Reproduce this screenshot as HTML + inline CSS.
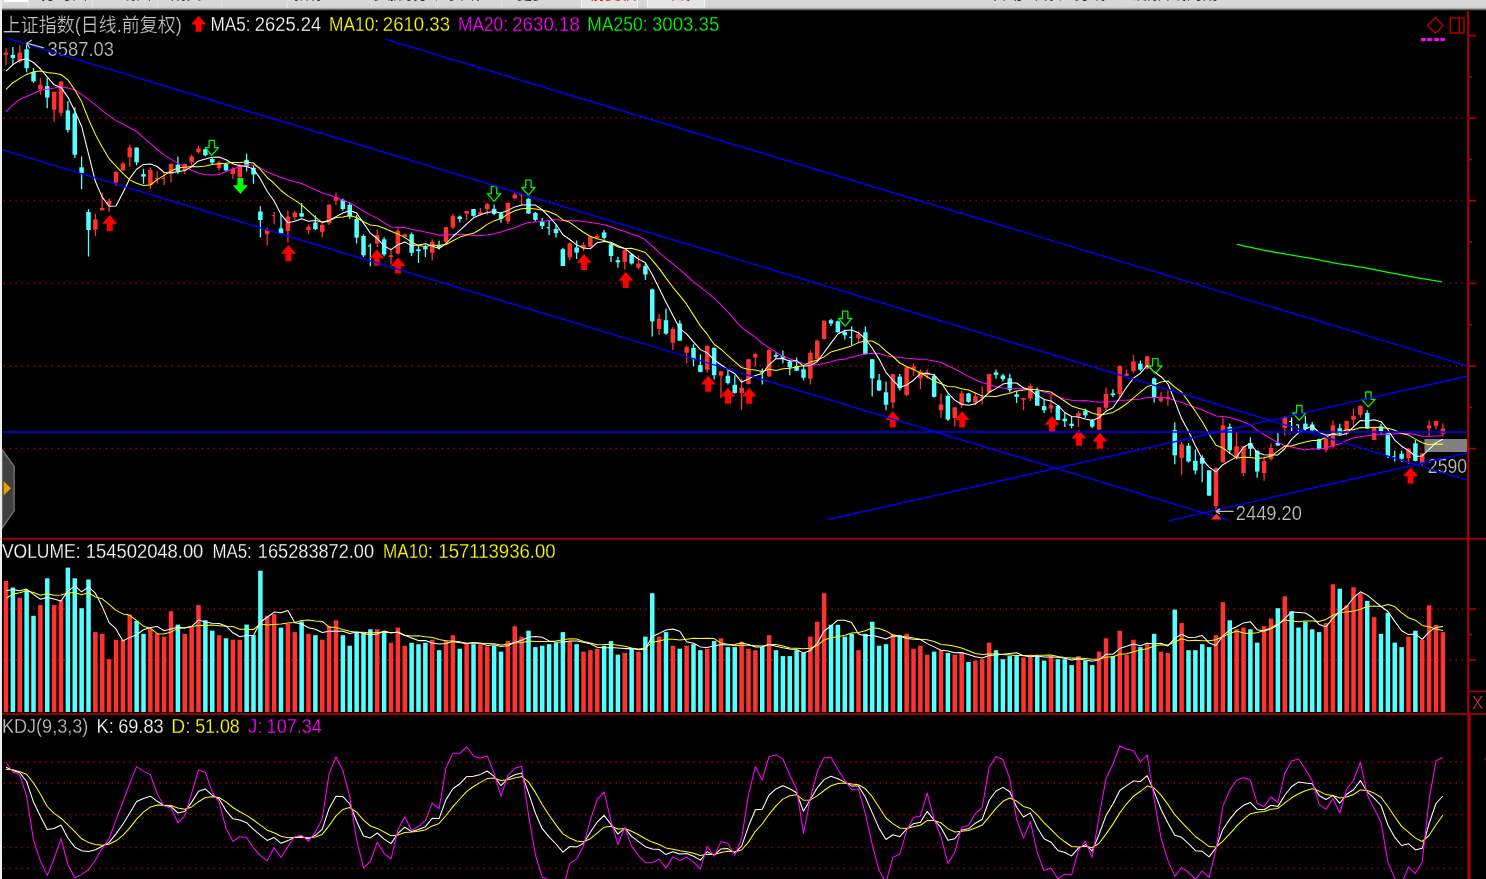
<!DOCTYPE html>
<html lang="zh-CN">
<head>
<meta charset="utf-8">
<title>上证指数 日线</title>
<style>
html,body{margin:0;padding:0;background:#000;}
body{width:1486px;height:879px;overflow:hidden;position:relative;font-family:"Liberation Sans","Noto Sans CJK SC",sans-serif;}
#bar{position:absolute;left:0;top:0;width:1486px;height:11px;background:linear-gradient(#d9d9d9 0,#d6d6d6 6px,#cdcdcd 7.6px,#909090 9px,#2a2a2a 10.2px,#000 11px);overflow:hidden;}
#bar span{position:absolute;top:-14.1px;font-size:15px;line-height:15px;color:#333;white-space:nowrap;letter-spacing:0.6px;filter:blur(0.4px);}
#bar i{position:absolute;top:0;width:1.2px;height:8px;background:#dfdfdf;}
#bar b{position:absolute;top:0;height:7.5px;background:#e4e4e4;border-left:1.5px solid #f6f6f6;border-right:1.5px solid #f6f6f6;box-sizing:border-box;}
#left{position:absolute;left:0;top:0;width:2px;height:879px;background:#ededed;}
svg{position:absolute;left:0;top:0;filter:blur(0.45px);}
svg text{font-family:"Liberation Sans","Noto Sans CJK SC",sans-serif;white-space:pre;}
</style>
</head>
<body>
<svg width="1486" height="879" viewBox="0 0 1486 879">
<line x1="3.4" y1="118.2" x2="1464" y2="118.2" stroke="#c00000" stroke-width="1.3" stroke-dasharray="1.4 4.60"/>
<line x1="3.4" y1="200.8" x2="1464" y2="200.8" stroke="#c00000" stroke-width="1.3" stroke-dasharray="1.4 4.60"/>
<line x1="3.4" y1="283.4" x2="1464" y2="283.4" stroke="#c00000" stroke-width="1.3" stroke-dasharray="1.4 4.60"/>
<line x1="3.4" y1="366" x2="1464" y2="366" stroke="#c00000" stroke-width="1.3" stroke-dasharray="1.4 4.60"/>
<line x1="3.4" y1="448.5" x2="1464" y2="448.5" stroke="#c00000" stroke-width="1.3" stroke-dasharray="1.4 4.60"/>
<line x1="3.4" y1="609" x2="1464" y2="609" stroke="#c00000" stroke-width="1.3" stroke-dasharray="1.4 4.60"/>
<line x1="3.4" y1="660" x2="1464" y2="660" stroke="#c00000" stroke-width="1.3" stroke-dasharray="1.4 4.60"/>
<line x1="3.4" y1="762" x2="1464" y2="762" stroke="#c00000" stroke-width="1.3" stroke-dasharray="1.4 4.60"/>
<line x1="3.4" y1="783" x2="1464" y2="783" stroke="#c00000" stroke-width="1.3" stroke-dasharray="1.4 4.60"/>
<line x1="3.4" y1="814.6" x2="1464" y2="814.6" stroke="#c00000" stroke-width="1.3" stroke-dasharray="1.4 4.60"/>
<line x1="3.4" y1="847.6" x2="1464" y2="847.6" stroke="#c00000" stroke-width="1.3" stroke-dasharray="1.4 4.60"/>
<line x1="3.4" y1="868.3" x2="1464" y2="868.3" stroke="#c00000" stroke-width="1.3" stroke-dasharray="1.4 4.60"/>
<g id="blueend"></g>
<rect x="1424.4" y="439" width="43" height="13" fill="#808080"/>
<line x1="6" y1="48.3" x2="6" y2="64.9" stroke="#ff3232" stroke-width="1.3"/>
<rect x="3.75" y="52.6" width="4.5" height="2.2" fill="#ff3232"/>
<line x1="12.9" y1="47.1" x2="12.9" y2="64.9" stroke="#54ffff" stroke-width="1.3"/>
<rect x="10.62" y="54.8" width="4.5" height="3.1" fill="#54ffff"/>
<line x1="19.8" y1="45.2" x2="19.8" y2="63.2" stroke="#ff3232" stroke-width="1.3"/>
<rect x="17.50" y="52.6" width="4.5" height="8.8" fill="#ff3232"/>
<line x1="26.6" y1="44.8" x2="26.6" y2="72.4" stroke="#54ffff" stroke-width="1.3"/>
<rect x="24.38" y="49.3" width="4.5" height="18.9" fill="#54ffff"/>
<line x1="33.5" y1="68" x2="33.5" y2="82.8" stroke="#54ffff" stroke-width="1.3"/>
<rect x="31.25" y="72" width="4.5" height="9.4" fill="#54ffff"/>
<line x1="40.4" y1="78.3" x2="40.4" y2="94.9" stroke="#ff3232" stroke-width="1.3"/>
<rect x="38.12" y="84.8" width="4.5" height="4.7" fill="#ff3232"/>
<line x1="47.2" y1="78" x2="47.2" y2="108.3" stroke="#54ffff" stroke-width="1.3"/>
<rect x="45.00" y="86.1" width="4.5" height="11.5" fill="#54ffff"/>
<line x1="54.1" y1="91.5" x2="54.1" y2="121.8" stroke="#ff3232" stroke-width="1.3"/>
<rect x="51.88" y="91.8" width="4.5" height="17.9" fill="#ff3232"/>
<line x1="61" y1="81.4" x2="61" y2="115.8" stroke="#ff3232" stroke-width="1.3"/>
<rect x="58.75" y="81.4" width="4.5" height="31.4" fill="#ff3232"/>
<line x1="67.9" y1="101" x2="67.9" y2="132.6" stroke="#54ffff" stroke-width="1.3"/>
<rect x="65.62" y="110.4" width="4.5" height="19.5" fill="#54ffff"/>
<line x1="74.8" y1="107.3" x2="74.8" y2="158.1" stroke="#54ffff" stroke-width="1.3"/>
<rect x="72.50" y="113.5" width="4.5" height="41.2" fill="#54ffff"/>
<line x1="81.6" y1="156.4" x2="81.6" y2="189.2" stroke="#54ffff" stroke-width="1.3"/>
<rect x="79.38" y="167.3" width="4.5" height="5.9" fill="#54ffff"/>
<line x1="88.5" y1="209.1" x2="88.5" y2="256.6" stroke="#54ffff" stroke-width="1.3"/>
<rect x="86.25" y="212" width="4.5" height="18" fill="#54ffff"/>
<line x1="95.4" y1="213.6" x2="95.4" y2="236" stroke="#ff3232" stroke-width="1.3"/>
<rect x="93.12" y="219.5" width="4.5" height="10.1" fill="#ff3232"/>
<line x1="102.2" y1="192.6" x2="102.2" y2="210.3" stroke="#ff3232" stroke-width="1.3"/>
<rect x="100.00" y="208" width="4.5" height="2.3" fill="#ff3232"/>
<line x1="109.1" y1="198.5" x2="109.1" y2="212" stroke="#ff3232" stroke-width="1.3"/>
<rect x="106.88" y="201" width="4.5" height="4.2" fill="#ff3232"/>
<line x1="116" y1="170.7" x2="116" y2="185.9" stroke="#ff3232" stroke-width="1.3"/>
<rect x="113.75" y="172" width="4.5" height="10.5" fill="#ff3232"/>
<line x1="122.9" y1="162" x2="122.9" y2="170.7" stroke="#ff3232" stroke-width="1.3"/>
<rect x="120.62" y="163.6" width="4.5" height="6.8" fill="#ff3232"/>
<line x1="129.8" y1="144.6" x2="129.8" y2="167" stroke="#ff3232" stroke-width="1.3"/>
<rect x="127.50" y="147.5" width="4.5" height="9.7" fill="#ff3232"/>
<line x1="136.6" y1="147.6" x2="136.6" y2="165.3" stroke="#54ffff" stroke-width="1.3"/>
<rect x="134.38" y="147.6" width="4.5" height="14.7" fill="#54ffff"/>
<line x1="143.5" y1="168.7" x2="143.5" y2="183.8" stroke="#54ffff" stroke-width="1.3"/>
<rect x="141.25" y="174.1" width="4.5" height="2.5" fill="#54ffff"/>
<line x1="150.4" y1="167.3" x2="150.4" y2="189.2" stroke="#ff3232" stroke-width="1.3"/>
<rect x="148.12" y="169.9" width="4.5" height="15.1" fill="#ff3232"/>
<path d="M157.25 171.4 V183.5 M154.75 178.6 H157.25" stroke="#ff3232" stroke-width="1.3" fill="none"/>
<path d="M164.12 172.3 V185.1 M161.62 178.5 H164.12" stroke="#ff3232" stroke-width="1.3" fill="none"/>
<line x1="171" y1="163.6" x2="171" y2="182.2" stroke="#ff3232" stroke-width="1.3"/>
<rect x="168.75" y="164" width="4.5" height="10" fill="#ff3232"/>
<line x1="177.9" y1="156.4" x2="177.9" y2="174" stroke="#54ffff" stroke-width="1.3"/>
<rect x="175.62" y="164.8" width="4.5" height="6.7" fill="#54ffff"/>
<line x1="184.8" y1="163.6" x2="184.8" y2="174" stroke="#ff3232" stroke-width="1.3"/>
<rect x="182.50" y="164" width="4.5" height="6.4" fill="#ff3232"/>
<line x1="191.6" y1="154.7" x2="191.6" y2="165.6" stroke="#ff3232" stroke-width="1.3"/>
<rect x="189.38" y="156.4" width="4.5" height="5.9" fill="#ff3232"/>
<line x1="198.5" y1="145.8" x2="198.5" y2="153.9" stroke="#ff3232" stroke-width="1.3"/>
<rect x="196.25" y="148.5" width="4.5" height="3.7" fill="#ff3232"/>
<line x1="205.4" y1="148.8" x2="205.4" y2="156.4" stroke="#54ffff" stroke-width="1.3"/>
<rect x="203.12" y="149.2" width="4.5" height="6" fill="#54ffff"/>
<line x1="212.2" y1="158.1" x2="212.2" y2="164" stroke="#54ffff" stroke-width="1.3"/>
<rect x="210.00" y="159" width="4.5" height="3.6" fill="#54ffff"/>
<line x1="219.1" y1="160.6" x2="219.1" y2="170.4" stroke="#ff3232" stroke-width="1.3"/>
<rect x="216.88" y="162.3" width="4.5" height="5.9" fill="#ff3232"/>
<line x1="226" y1="163.1" x2="226" y2="171.5" stroke="#54ffff" stroke-width="1.3"/>
<rect x="223.75" y="164" width="4.5" height="6.4" fill="#54ffff"/>
<line x1="232.9" y1="167.3" x2="232.9" y2="179.1" stroke="#ff3232" stroke-width="1.3"/>
<rect x="230.62" y="168.7" width="4.5" height="5.3" fill="#ff3232"/>
<line x1="239.8" y1="164" x2="239.8" y2="177.4" stroke="#ff3232" stroke-width="1.3"/>
<rect x="237.50" y="164.8" width="4.5" height="12.6" fill="#ff3232"/>
<line x1="246.6" y1="153.5" x2="246.6" y2="171.5" stroke="#54ffff" stroke-width="1.3"/>
<rect x="244.38" y="159.8" width="4.5" height="6.7" fill="#54ffff"/>
<line x1="253.5" y1="165.3" x2="253.5" y2="183.8" stroke="#54ffff" stroke-width="1.3"/>
<rect x="251.25" y="167.8" width="4.5" height="6.7" fill="#54ffff"/>
<line x1="260.4" y1="206.2" x2="260.4" y2="237.6" stroke="#54ffff" stroke-width="1.3"/>
<rect x="258.12" y="211.5" width="4.5" height="8.5" fill="#54ffff"/>
<line x1="267.2" y1="227.5" x2="267.2" y2="245.2" stroke="#ff3232" stroke-width="1.3"/>
<rect x="265.00" y="230" width="4.5" height="4.3" fill="#ff3232"/>
<path d="M274.12 212 V224.2 M271.62 215.6 H274.12" stroke="#ff3232" stroke-width="1.3" fill="none"/>
<line x1="281" y1="214" x2="281" y2="233.4" stroke="#54ffff" stroke-width="1.3"/>
<rect x="278.75" y="228.4" width="4.5" height="5" fill="#54ffff"/>
<line x1="287.9" y1="210.7" x2="287.9" y2="242.4" stroke="#ff3232" stroke-width="1.3"/>
<rect x="285.62" y="216.6" width="4.5" height="14.3" fill="#ff3232"/>
<line x1="294.8" y1="210.7" x2="294.8" y2="220" stroke="#ff3232" stroke-width="1.3"/>
<rect x="292.50" y="212.7" width="4.5" height="4.4" fill="#ff3232"/>
<line x1="301.6" y1="203.1" x2="301.6" y2="217.1" stroke="#54ffff" stroke-width="1.3"/>
<rect x="299.38" y="213.2" width="4.5" height="3.4" fill="#54ffff"/>
<line x1="308.5" y1="224.2" x2="308.5" y2="234.3" stroke="#ff3232" stroke-width="1.3"/>
<rect x="306.25" y="226.7" width="4.5" height="3.3" fill="#ff3232"/>
<line x1="315.4" y1="215.4" x2="315.4" y2="230" stroke="#54ffff" stroke-width="1.3"/>
<rect x="313.12" y="222.5" width="4.5" height="6.7" fill="#54ffff"/>
<line x1="322.2" y1="223.3" x2="322.2" y2="237.6" stroke="#ff3232" stroke-width="1.3"/>
<rect x="320.00" y="225" width="4.5" height="6.8" fill="#ff3232"/>
<line x1="329.1" y1="204" x2="329.1" y2="225" stroke="#ff3232" stroke-width="1.3"/>
<rect x="326.88" y="204.8" width="4.5" height="18.5" fill="#ff3232"/>
<line x1="336" y1="192.5" x2="336" y2="204.8" stroke="#ff3232" stroke-width="1.3"/>
<rect x="333.75" y="197.2" width="4.5" height="3.4" fill="#ff3232"/>
<line x1="342.9" y1="198.6" x2="342.9" y2="210.7" stroke="#54ffff" stroke-width="1.3"/>
<rect x="340.62" y="199.8" width="4.5" height="9.2" fill="#54ffff"/>
<line x1="349.8" y1="202.6" x2="349.8" y2="219.1" stroke="#54ffff" stroke-width="1.3"/>
<rect x="347.50" y="204.8" width="4.5" height="11.8" fill="#54ffff"/>
<line x1="356.6" y1="214.9" x2="356.6" y2="243.5" stroke="#54ffff" stroke-width="1.3"/>
<rect x="354.38" y="219.1" width="4.5" height="18.5" fill="#54ffff"/>
<line x1="363.5" y1="234.3" x2="363.5" y2="257" stroke="#54ffff" stroke-width="1.3"/>
<rect x="361.25" y="236" width="4.5" height="19.3" fill="#54ffff"/>
<path d="M370.38 243.5 V266.3 M367.88 245.8 H370.38" stroke="#54ffff" stroke-width="1.3" fill="none"/>
<line x1="377.2" y1="230" x2="377.2" y2="246.9" stroke="#ff3232" stroke-width="1.3"/>
<rect x="375.00" y="235.1" width="4.5" height="8.4" fill="#ff3232"/>
<line x1="384.1" y1="237.3" x2="384.1" y2="256.2" stroke="#54ffff" stroke-width="1.3"/>
<rect x="381.88" y="239.3" width="4.5" height="15.2" fill="#54ffff"/>
<line x1="391" y1="248.6" x2="391" y2="264.6" stroke="#ff3232" stroke-width="1.3"/>
<rect x="388.75" y="255.3" width="4.5" height="1.7" fill="#ff3232"/>
<line x1="397.9" y1="228.4" x2="397.9" y2="254.5" stroke="#ff3232" stroke-width="1.3"/>
<rect x="395.62" y="230.9" width="4.5" height="22.7" fill="#ff3232"/>
<line x1="404.8" y1="233.4" x2="404.8" y2="237.6" stroke="#ff3232" stroke-width="1.3"/>
<rect x="402.50" y="234.3" width="4.5" height="2.5" fill="#ff3232"/>
<line x1="411.6" y1="232.6" x2="411.6" y2="256.2" stroke="#54ffff" stroke-width="1.3"/>
<rect x="409.38" y="234.3" width="4.5" height="18.5" fill="#54ffff"/>
<line x1="418.5" y1="246" x2="418.5" y2="262.9" stroke="#54ffff" stroke-width="1.3"/>
<rect x="416.25" y="249.4" width="4.5" height="1.7" fill="#54ffff"/>
<line x1="425.4" y1="245.2" x2="425.4" y2="257" stroke="#54ffff" stroke-width="1.3"/>
<rect x="423.12" y="246.9" width="4.5" height="2.5" fill="#54ffff"/>
<line x1="432.2" y1="239.3" x2="432.2" y2="260.4" stroke="#ff3232" stroke-width="1.3"/>
<rect x="430.00" y="241.9" width="4.5" height="10.9" fill="#ff3232"/>
<line x1="439.1" y1="240.7" x2="439.1" y2="249.4" stroke="#54ffff" stroke-width="1.3"/>
<rect x="436.88" y="245.2" width="4.5" height="2.5" fill="#54ffff"/>
<line x1="446" y1="227.2" x2="446" y2="243" stroke="#ff3232" stroke-width="1.3"/>
<rect x="443.75" y="227.2" width="4.5" height="14.7" fill="#ff3232"/>
<line x1="452.9" y1="213.7" x2="452.9" y2="228.9" stroke="#ff3232" stroke-width="1.3"/>
<rect x="450.62" y="216.1" width="4.5" height="11.4" fill="#ff3232"/>
<line x1="459.8" y1="215.4" x2="459.8" y2="222.5" stroke="#54ffff" stroke-width="1.3"/>
<rect x="457.50" y="216.6" width="4.5" height="2.5" fill="#54ffff"/>
<line x1="466.6" y1="210.7" x2="466.6" y2="220" stroke="#ff3232" stroke-width="1.3"/>
<rect x="464.38" y="211" width="4.5" height="2.7" fill="#ff3232"/>
<line x1="473.5" y1="209" x2="473.5" y2="216.6" stroke="#54ffff" stroke-width="1.3"/>
<rect x="471.25" y="209" width="4.5" height="6.8" fill="#54ffff"/>
<line x1="480.4" y1="208" x2="480.4" y2="215.6" stroke="#ff3232" stroke-width="1.3"/>
<rect x="478.12" y="212.2" width="4.5" height="2" fill="#ff3232"/>
<line x1="487.2" y1="202.9" x2="487.2" y2="214.7" stroke="#ff3232" stroke-width="1.3"/>
<rect x="485.00" y="204.1" width="4.5" height="5.1" fill="#ff3232"/>
<line x1="494.1" y1="204.6" x2="494.1" y2="215.2" stroke="#54ffff" stroke-width="1.3"/>
<rect x="491.88" y="208.8" width="4.5" height="5.1" fill="#54ffff"/>
<line x1="501" y1="212.2" x2="501" y2="222.6" stroke="#54ffff" stroke-width="1.3"/>
<rect x="498.75" y="213.5" width="4.5" height="5.4" fill="#54ffff"/>
<line x1="507.9" y1="202.5" x2="507.9" y2="224" stroke="#ff3232" stroke-width="1.3"/>
<rect x="505.62" y="202.9" width="4.5" height="18.5" fill="#ff3232"/>
<line x1="514.8" y1="192.8" x2="514.8" y2="198.7" stroke="#ff3232" stroke-width="1.3"/>
<rect x="512.50" y="194.5" width="4.5" height="3.9" fill="#ff3232"/>
<path d="M521.62 194.5 V205.1 M519.12 194.7 H521.62" stroke="#ff3232" stroke-width="1.3" fill="none"/>
<line x1="528.5" y1="198.4" x2="528.5" y2="213.9" stroke="#54ffff" stroke-width="1.3"/>
<rect x="526.25" y="198.7" width="4.5" height="14.8" fill="#54ffff"/>
<line x1="535.4" y1="211.9" x2="535.4" y2="221.4" stroke="#54ffff" stroke-width="1.3"/>
<rect x="533.12" y="213" width="4.5" height="6.8" fill="#54ffff"/>
<line x1="542.2" y1="218.1" x2="542.2" y2="229" stroke="#54ffff" stroke-width="1.3"/>
<rect x="540.00" y="221.4" width="4.5" height="4.6" fill="#54ffff"/>
<path d="M549.12 220.6 V234.9 M546.62 227.7 H549.12" stroke="#54ffff" stroke-width="1.3" fill="none"/>
<line x1="556" y1="224.8" x2="556" y2="237.4" stroke="#54ffff" stroke-width="1.3"/>
<rect x="553.75" y="229" width="4.5" height="4.2" fill="#54ffff"/>
<line x1="562.9" y1="247.9" x2="562.9" y2="266" stroke="#54ffff" stroke-width="1.3"/>
<rect x="560.62" y="249.2" width="4.5" height="16.8" fill="#54ffff"/>
<line x1="569.8" y1="242.5" x2="569.8" y2="260.2" stroke="#ff3232" stroke-width="1.3"/>
<rect x="567.50" y="243.3" width="4.5" height="14" fill="#ff3232"/>
<line x1="576.6" y1="240.5" x2="576.6" y2="259" stroke="#54ffff" stroke-width="1.3"/>
<rect x="574.38" y="247.5" width="4.5" height="5.1" fill="#54ffff"/>
<line x1="583.5" y1="242.2" x2="583.5" y2="250.9" stroke="#ff3232" stroke-width="1.3"/>
<rect x="581.25" y="245" width="4.5" height="3.4" fill="#ff3232"/>
<line x1="590.4" y1="235.8" x2="590.4" y2="247.5" stroke="#ff3232" stroke-width="1.3"/>
<rect x="588.12" y="236.6" width="4.5" height="10.1" fill="#ff3232"/>
<line x1="597.2" y1="234" x2="597.2" y2="239" stroke="#ff3232" stroke-width="1.3"/>
<rect x="595.00" y="235.8" width="4.5" height="2" fill="#ff3232"/>
<line x1="604.1" y1="229.9" x2="604.1" y2="239.5" stroke="#54ffff" stroke-width="1.3"/>
<rect x="601.88" y="232.4" width="4.5" height="5.4" fill="#54ffff"/>
<line x1="611" y1="243.3" x2="611" y2="261.9" stroke="#54ffff" stroke-width="1.3"/>
<rect x="608.75" y="244.2" width="4.5" height="11.8" fill="#54ffff"/>
<line x1="617.9" y1="256.8" x2="617.9" y2="267.7" stroke="#54ffff" stroke-width="1.3"/>
<rect x="615.62" y="260.2" width="4.5" height="2.2" fill="#54ffff"/>
<line x1="624.8" y1="249.2" x2="624.8" y2="269.4" stroke="#ff3232" stroke-width="1.3"/>
<rect x="622.50" y="250.1" width="4.5" height="11.8" fill="#ff3232"/>
<line x1="631.6" y1="253.4" x2="631.6" y2="264.7" stroke="#54ffff" stroke-width="1.3"/>
<rect x="629.38" y="254.6" width="4.5" height="8.9" fill="#54ffff"/>
<line x1="638.5" y1="255.6" x2="638.5" y2="269.4" stroke="#ff3232" stroke-width="1.3"/>
<rect x="636.25" y="263.5" width="4.5" height="4.2" fill="#ff3232"/>
<line x1="645.4" y1="263.5" x2="645.4" y2="279.9" stroke="#54ffff" stroke-width="1.3"/>
<rect x="643.12" y="266.1" width="4.5" height="8.4" fill="#54ffff"/>
<line x1="652.2" y1="288.5" x2="652.2" y2="336.5" stroke="#54ffff" stroke-width="1.3"/>
<rect x="650.00" y="289.4" width="4.5" height="31.9" fill="#54ffff"/>
<line x1="659.1" y1="314.1" x2="659.1" y2="334.8" stroke="#ff3232" stroke-width="1.3"/>
<rect x="656.88" y="318.8" width="4.5" height="10.1" fill="#ff3232"/>
<line x1="666" y1="308.4" x2="666" y2="334.8" stroke="#54ffff" stroke-width="1.3"/>
<rect x="663.75" y="320.2" width="4.5" height="13.4" fill="#54ffff"/>
<line x1="672.9" y1="327.2" x2="672.9" y2="350" stroke="#ff3232" stroke-width="1.3"/>
<rect x="670.62" y="328.9" width="4.5" height="13.8" fill="#ff3232"/>
<line x1="679.8" y1="320.2" x2="679.8" y2="340.7" stroke="#54ffff" stroke-width="1.3"/>
<rect x="677.50" y="323.5" width="4.5" height="17.2" fill="#54ffff"/>
<line x1="686.6" y1="345.4" x2="686.6" y2="363.4" stroke="#ff3232" stroke-width="1.3"/>
<rect x="684.38" y="347.1" width="4.5" height="5.7" fill="#ff3232"/>
<line x1="693.5" y1="344.1" x2="693.5" y2="366.3" stroke="#54ffff" stroke-width="1.3"/>
<rect x="691.25" y="347.8" width="4.5" height="11.4" fill="#54ffff"/>
<line x1="700.4" y1="354.2" x2="700.4" y2="372.4" stroke="#54ffff" stroke-width="1.3"/>
<rect x="698.12" y="365.1" width="4.5" height="6.8" fill="#54ffff"/>
<line x1="707.2" y1="345.4" x2="707.2" y2="372.4" stroke="#ff3232" stroke-width="1.3"/>
<rect x="705.00" y="345.8" width="4.5" height="23.9" fill="#ff3232"/>
<line x1="714.1" y1="347.4" x2="714.1" y2="379.4" stroke="#54ffff" stroke-width="1.3"/>
<rect x="711.88" y="347.8" width="4.5" height="27.4" fill="#54ffff"/>
<line x1="721" y1="371.3" x2="721" y2="397.9" stroke="#ff3232" stroke-width="1.3"/>
<rect x="718.75" y="371.3" width="4.5" height="4.4" fill="#ff3232"/>
<line x1="727.9" y1="370.2" x2="727.9" y2="384.5" stroke="#54ffff" stroke-width="1.3"/>
<rect x="725.62" y="375.7" width="4.5" height="7.4" fill="#54ffff"/>
<line x1="734.8" y1="375.2" x2="734.8" y2="393.7" stroke="#54ffff" stroke-width="1.3"/>
<rect x="732.50" y="384.8" width="4.5" height="8.1" fill="#54ffff"/>
<line x1="741.6" y1="378.6" x2="741.6" y2="409.7" stroke="#ff3232" stroke-width="1.3"/>
<rect x="739.38" y="387.8" width="4.5" height="5.1" fill="#ff3232"/>
<line x1="748.5" y1="359.2" x2="748.5" y2="384.5" stroke="#ff3232" stroke-width="1.3"/>
<rect x="746.25" y="359.2" width="4.5" height="24.9" fill="#ff3232"/>
<line x1="755.4" y1="352.8" x2="755.4" y2="366" stroke="#ff3232" stroke-width="1.3"/>
<rect x="753.12" y="354.2" width="4.5" height="3.3" fill="#ff3232"/>
<path d="M762.25 368.5 V384.5 M759.75 372.2 H762.25" stroke="#54ffff" stroke-width="1.3" fill="none"/>
<line x1="769.1" y1="348.3" x2="769.1" y2="376.9" stroke="#ff3232" stroke-width="1.3"/>
<rect x="766.88" y="350" width="4.5" height="26.4" fill="#ff3232"/>
<line x1="776" y1="352.8" x2="776" y2="358.4" stroke="#54ffff" stroke-width="1.3"/>
<rect x="773.75" y="355" width="4.5" height="1.7" fill="#54ffff"/>
<line x1="782.9" y1="350.5" x2="782.9" y2="363.4" stroke="#54ffff" stroke-width="1.3"/>
<rect x="780.62" y="355.9" width="4.5" height="2.5" fill="#54ffff"/>
<line x1="789.8" y1="360.1" x2="789.8" y2="375.2" stroke="#54ffff" stroke-width="1.3"/>
<rect x="787.50" y="361.8" width="4.5" height="5.5" fill="#54ffff"/>
<line x1="796.6" y1="357.5" x2="796.6" y2="371" stroke="#54ffff" stroke-width="1.3"/>
<rect x="794.38" y="366" width="4.5" height="4.7" fill="#54ffff"/>
<line x1="803.5" y1="366.8" x2="803.5" y2="380.3" stroke="#54ffff" stroke-width="1.3"/>
<rect x="801.25" y="369.3" width="4.5" height="8.4" fill="#54ffff"/>
<line x1="810.4" y1="350.5" x2="810.4" y2="384.5" stroke="#ff3232" stroke-width="1.3"/>
<rect x="808.12" y="352.8" width="4.5" height="25.8" fill="#ff3232"/>
<line x1="817.2" y1="339.4" x2="817.2" y2="360.1" stroke="#ff3232" stroke-width="1.3"/>
<rect x="815.00" y="340.7" width="4.5" height="18.5" fill="#ff3232"/>
<line x1="824.1" y1="320.2" x2="824.1" y2="339.4" stroke="#ff3232" stroke-width="1.3"/>
<rect x="821.88" y="320.8" width="4.5" height="18.2" fill="#ff3232"/>
<line x1="831" y1="318.8" x2="831" y2="325.9" stroke="#54ffff" stroke-width="1.3"/>
<rect x="828.75" y="320.2" width="4.5" height="3.3" fill="#54ffff"/>
<line x1="837.9" y1="320.5" x2="837.9" y2="332.7" stroke="#54ffff" stroke-width="1.3"/>
<rect x="835.62" y="321.3" width="4.5" height="11" fill="#54ffff"/>
<line x1="844.8" y1="329.8" x2="844.8" y2="339.4" stroke="#54ffff" stroke-width="1.3"/>
<rect x="842.50" y="332" width="4.5" height="3.3" fill="#54ffff"/>
<path d="M851.62 326.4 V345.4 M849.12 337.3 H851.62" stroke="#54ffff" stroke-width="1.3" fill="none"/>
<line x1="858.5" y1="331.4" x2="858.5" y2="342.7" stroke="#ff3232" stroke-width="1.3"/>
<rect x="856.25" y="334" width="4.5" height="4.2" fill="#ff3232"/>
<line x1="865.4" y1="326.4" x2="865.4" y2="354.2" stroke="#54ffff" stroke-width="1.3"/>
<rect x="863.12" y="332.3" width="4.5" height="21.9" fill="#54ffff"/>
<line x1="872.2" y1="358.9" x2="872.2" y2="396.6" stroke="#54ffff" stroke-width="1.3"/>
<rect x="870.00" y="359.3" width="4.5" height="19.1" fill="#54ffff"/>
<line x1="879.1" y1="374.1" x2="879.1" y2="390.9" stroke="#54ffff" stroke-width="1.3"/>
<rect x="876.88" y="380.2" width="4.5" height="10.3" fill="#54ffff"/>
<line x1="886" y1="381.6" x2="886" y2="410.3" stroke="#54ffff" stroke-width="1.3"/>
<rect x="883.75" y="392.3" width="4.5" height="12.4" fill="#54ffff"/>
<line x1="892.9" y1="374.1" x2="892.9" y2="408.6" stroke="#ff3232" stroke-width="1.3"/>
<rect x="890.62" y="374.1" width="4.5" height="28.3" fill="#ff3232"/>
<line x1="899.8" y1="374.1" x2="899.8" y2="390.6" stroke="#54ffff" stroke-width="1.3"/>
<rect x="897.50" y="376.6" width="4.5" height="11.8" fill="#54ffff"/>
<line x1="906.6" y1="366.5" x2="906.6" y2="396.3" stroke="#ff3232" stroke-width="1.3"/>
<rect x="904.38" y="367.3" width="4.5" height="27.8" fill="#ff3232"/>
<line x1="913.5" y1="363.6" x2="913.5" y2="375.8" stroke="#ff3232" stroke-width="1.3"/>
<rect x="911.25" y="366.5" width="4.5" height="3.4" fill="#ff3232"/>
<line x1="920.4" y1="369.4" x2="920.4" y2="389.2" stroke="#ff3232" stroke-width="1.3"/>
<rect x="918.12" y="371.5" width="4.5" height="6.8" fill="#ff3232"/>
<line x1="927.2" y1="369.4" x2="927.2" y2="378.8" stroke="#ff3232" stroke-width="1.3"/>
<rect x="925.00" y="372.4" width="4.5" height="2.5" fill="#ff3232"/>
<line x1="934.1" y1="374.1" x2="934.1" y2="397.6" stroke="#54ffff" stroke-width="1.3"/>
<rect x="931.88" y="376.1" width="4.5" height="20.7" fill="#54ffff"/>
<line x1="941" y1="393.4" x2="941" y2="417.8" stroke="#ff3232" stroke-width="1.3"/>
<rect x="938.75" y="404.4" width="4.5" height="5.9" fill="#ff3232"/>
<line x1="947.9" y1="394.3" x2="947.9" y2="420.9" stroke="#54ffff" stroke-width="1.3"/>
<rect x="945.62" y="396" width="4.5" height="23.5" fill="#54ffff"/>
<line x1="954.8" y1="406.9" x2="954.8" y2="426.6" stroke="#ff3232" stroke-width="1.3"/>
<rect x="952.50" y="407.4" width="4.5" height="10.4" fill="#ff3232"/>
<line x1="961.6" y1="390.9" x2="961.6" y2="407.7" stroke="#ff3232" stroke-width="1.3"/>
<rect x="959.38" y="393.4" width="4.5" height="11.8" fill="#ff3232"/>
<line x1="968.5" y1="393.1" x2="968.5" y2="402.7" stroke="#54ffff" stroke-width="1.3"/>
<rect x="966.25" y="393.4" width="4.5" height="8.5" fill="#54ffff"/>
<line x1="975.4" y1="392.6" x2="975.4" y2="405.2" stroke="#ff3232" stroke-width="1.3"/>
<rect x="973.12" y="396.3" width="4.5" height="6.1" fill="#ff3232"/>
<path d="M982.25 386.2 V404.4 M979.75 397.6 H982.25" stroke="#ff3232" stroke-width="1.3" fill="none"/>
<line x1="989.1" y1="373.7" x2="989.1" y2="392.6" stroke="#ff3232" stroke-width="1.3"/>
<rect x="986.88" y="374.1" width="4.5" height="18.2" fill="#ff3232"/>
<line x1="996" y1="369.4" x2="996" y2="378.8" stroke="#54ffff" stroke-width="1.3"/>
<rect x="993.75" y="372.4" width="4.5" height="2.5" fill="#54ffff"/>
<line x1="1002.9" y1="373.7" x2="1002.9" y2="381.6" stroke="#54ffff" stroke-width="1.3"/>
<rect x="1000.62" y="375.4" width="4.5" height="3.7" fill="#54ffff"/>
<line x1="1009.8" y1="373.7" x2="1009.8" y2="392.6" stroke="#54ffff" stroke-width="1.3"/>
<rect x="1007.50" y="378.3" width="4.5" height="11.8" fill="#54ffff"/>
<line x1="1016.6" y1="390.9" x2="1016.6" y2="403" stroke="#54ffff" stroke-width="1.3"/>
<rect x="1014.38" y="394.3" width="4.5" height="2.5" fill="#54ffff"/>
<line x1="1023.5" y1="398" x2="1023.5" y2="410.3" stroke="#ff3232" stroke-width="1.3"/>
<rect x="1021.25" y="398.1" width="4.5" height="1.6" fill="#ff3232"/>
<line x1="1030.4" y1="383.3" x2="1030.4" y2="401" stroke="#ff3232" stroke-width="1.3"/>
<rect x="1028.12" y="385.9" width="4.5" height="12.6" fill="#ff3232"/>
<line x1="1037.2" y1="387.5" x2="1037.2" y2="405.7" stroke="#54ffff" stroke-width="1.3"/>
<rect x="1035.00" y="390.9" width="4.5" height="14.8" fill="#54ffff"/>
<line x1="1044.1" y1="399.3" x2="1044.1" y2="413.1" stroke="#54ffff" stroke-width="1.3"/>
<rect x="1041.88" y="406.1" width="4.5" height="4.2" fill="#54ffff"/>
<line x1="1051" y1="394.3" x2="1051" y2="413.1" stroke="#ff3232" stroke-width="1.3"/>
<rect x="1048.75" y="405.2" width="4.5" height="3.4" fill="#ff3232"/>
<line x1="1057.9" y1="405.2" x2="1057.9" y2="420.4" stroke="#54ffff" stroke-width="1.3"/>
<rect x="1055.62" y="405.7" width="4.5" height="14.2" fill="#54ffff"/>
<line x1="1064.8" y1="413.1" x2="1064.8" y2="427.1" stroke="#54ffff" stroke-width="1.3"/>
<rect x="1062.50" y="418.7" width="4.5" height="2.5" fill="#54ffff"/>
<line x1="1071.6" y1="417" x2="1071.6" y2="428.3" stroke="#54ffff" stroke-width="1.3"/>
<rect x="1069.38" y="423.7" width="4.5" height="2.2" fill="#54ffff"/>
<line x1="1078.5" y1="411.1" x2="1078.5" y2="427.1" stroke="#ff3232" stroke-width="1.3"/>
<rect x="1076.25" y="413.1" width="4.5" height="3.1" fill="#ff3232"/>
<line x1="1085.4" y1="408.6" x2="1085.4" y2="417.8" stroke="#54ffff" stroke-width="1.3"/>
<rect x="1083.12" y="411.1" width="4.5" height="4.2" fill="#54ffff"/>
<line x1="1092.2" y1="418.7" x2="1092.2" y2="428.3" stroke="#54ffff" stroke-width="1.3"/>
<rect x="1090.00" y="420.4" width="4.5" height="6.2" fill="#54ffff"/>
<line x1="1099.1" y1="406.9" x2="1099.1" y2="430" stroke="#ff3232" stroke-width="1.3"/>
<rect x="1096.88" y="407.4" width="4.5" height="22.2" fill="#ff3232"/>
<line x1="1106" y1="387.5" x2="1106" y2="410.3" stroke="#ff3232" stroke-width="1.3"/>
<rect x="1103.75" y="393.9" width="4.5" height="13.8" fill="#ff3232"/>
<line x1="1112.9" y1="389.2" x2="1112.9" y2="396.9" stroke="#54ffff" stroke-width="1.3"/>
<rect x="1110.62" y="393.5" width="4.5" height="1.7" fill="#54ffff"/>
<line x1="1119.8" y1="365.3" x2="1119.8" y2="398.1" stroke="#ff3232" stroke-width="1.3"/>
<rect x="1117.50" y="366.1" width="4.5" height="27.8" fill="#ff3232"/>
<line x1="1126.6" y1="369.5" x2="1126.6" y2="376.2" stroke="#ff3232" stroke-width="1.3"/>
<rect x="1124.38" y="373.7" width="4.5" height="2" fill="#ff3232"/>
<line x1="1133.5" y1="354.8" x2="1133.5" y2="372.8" stroke="#ff3232" stroke-width="1.3"/>
<rect x="1131.25" y="361.5" width="4.5" height="9.6" fill="#ff3232"/>
<line x1="1140.4" y1="360.5" x2="1140.4" y2="371.1" stroke="#54ffff" stroke-width="1.3"/>
<rect x="1138.12" y="363.6" width="4.5" height="5.9" fill="#54ffff"/>
<line x1="1147.2" y1="356" x2="1147.2" y2="369.5" stroke="#ff3232" stroke-width="1.3"/>
<rect x="1145.00" y="356.3" width="4.5" height="12.3" fill="#ff3232"/>
<line x1="1154.1" y1="377.4" x2="1154.1" y2="402.6" stroke="#54ffff" stroke-width="1.3"/>
<rect x="1151.88" y="378.4" width="4.5" height="19.7" fill="#54ffff"/>
<line x1="1161" y1="392.2" x2="1161" y2="402.6" stroke="#ff3232" stroke-width="1.3"/>
<rect x="1158.75" y="398.1" width="4.5" height="2.8" fill="#ff3232"/>
<line x1="1167.9" y1="390.2" x2="1167.9" y2="405.7" stroke="#ff3232" stroke-width="1.3"/>
<rect x="1165.62" y="397.2" width="4.5" height="1.7" fill="#ff3232"/>
<line x1="1174.8" y1="422.2" x2="1174.8" y2="464.2" stroke="#54ffff" stroke-width="1.3"/>
<rect x="1172.50" y="430.1" width="4.5" height="25.2" fill="#54ffff"/>
<line x1="1181.6" y1="441.9" x2="1181.6" y2="474.7" stroke="#ff3232" stroke-width="1.3"/>
<rect x="1179.38" y="444.4" width="4.5" height="13.4" fill="#ff3232"/>
<line x1="1188.5" y1="443" x2="1188.5" y2="462.6" stroke="#54ffff" stroke-width="1.3"/>
<rect x="1186.25" y="445.7" width="4.5" height="15.8" fill="#54ffff"/>
<line x1="1195.4" y1="449.4" x2="1195.4" y2="474.3" stroke="#54ffff" stroke-width="1.3"/>
<rect x="1193.12" y="460.9" width="4.5" height="9.6" fill="#54ffff"/>
<line x1="1202.2" y1="455.3" x2="1202.2" y2="482.3" stroke="#54ffff" stroke-width="1.3"/>
<rect x="1200.00" y="457.8" width="4.5" height="5.9" fill="#54ffff"/>
<line x1="1209.1" y1="469.9" x2="1209.1" y2="496" stroke="#54ffff" stroke-width="1.3"/>
<rect x="1206.88" y="470.4" width="4.5" height="25.2" fill="#54ffff"/>
<line x1="1216" y1="467.3" x2="1216" y2="512" stroke="#ff3232" stroke-width="1.3"/>
<rect x="1213.75" y="468.2" width="4.5" height="37.8" fill="#ff3232"/>
<line x1="1222.9" y1="417.7" x2="1222.9" y2="462.6" stroke="#ff3232" stroke-width="1.3"/>
<rect x="1220.62" y="425.3" width="4.5" height="37" fill="#ff3232"/>
<line x1="1229.8" y1="423.6" x2="1229.8" y2="453.9" stroke="#54ffff" stroke-width="1.3"/>
<rect x="1227.50" y="426.9" width="4.5" height="23.3" fill="#54ffff"/>
<line x1="1236.6" y1="432.8" x2="1236.6" y2="459.8" stroke="#ff3232" stroke-width="1.3"/>
<rect x="1234.38" y="446.3" width="4.5" height="10.9" fill="#ff3232"/>
<line x1="1243.5" y1="445.8" x2="1243.5" y2="476.1" stroke="#ff3232" stroke-width="1.3"/>
<rect x="1241.25" y="446.3" width="4.5" height="26.9" fill="#ff3232"/>
<line x1="1250.4" y1="437.4" x2="1250.4" y2="456.4" stroke="#54ffff" stroke-width="1.3"/>
<rect x="1248.12" y="442.9" width="4.5" height="5.9" fill="#54ffff"/>
<line x1="1257.2" y1="450.2" x2="1257.2" y2="477.8" stroke="#54ffff" stroke-width="1.3"/>
<rect x="1255.00" y="450.8" width="4.5" height="20.7" fill="#54ffff"/>
<line x1="1264.1" y1="456.4" x2="1264.1" y2="480.8" stroke="#ff3232" stroke-width="1.3"/>
<rect x="1261.88" y="460.9" width="4.5" height="12.3" fill="#ff3232"/>
<line x1="1271" y1="443.4" x2="1271" y2="460.6" stroke="#ff3232" stroke-width="1.3"/>
<rect x="1268.75" y="448" width="4.5" height="10.9" fill="#ff3232"/>
<line x1="1277.9" y1="432.8" x2="1277.9" y2="445.8" stroke="#54ffff" stroke-width="1.3"/>
<rect x="1275.62" y="442.9" width="4.5" height="2.6" fill="#54ffff"/>
<line x1="1284.8" y1="416" x2="1284.8" y2="435.7" stroke="#ff3232" stroke-width="1.3"/>
<rect x="1282.50" y="416.8" width="4.5" height="11" fill="#ff3232"/>
<path d="M1291.62 417.6 V431 M1289.12 421.3 H1291.62" stroke="#ffffff" stroke-width="1.3" fill="none"/>
<path d="M1298.50 424.4 V431 M1296.00 424.8 H1298.50" stroke="#54ffff" stroke-width="1.3" fill="none"/>
<line x1="1305.4" y1="416" x2="1305.4" y2="431.1" stroke="#54ffff" stroke-width="1.3"/>
<rect x="1303.12" y="423.6" width="4.5" height="5.4" fill="#54ffff"/>
<line x1="1312.2" y1="421.9" x2="1312.2" y2="432.8" stroke="#54ffff" stroke-width="1.3"/>
<rect x="1310.00" y="424.4" width="4.5" height="5.9" fill="#54ffff"/>
<line x1="1319.1" y1="438.7" x2="1319.1" y2="449.7" stroke="#54ffff" stroke-width="1.3"/>
<rect x="1316.88" y="439.1" width="4.5" height="10.1" fill="#54ffff"/>
<line x1="1326" y1="437.4" x2="1326" y2="452.2" stroke="#ff3232" stroke-width="1.3"/>
<rect x="1323.75" y="437.9" width="4.5" height="11.8" fill="#ff3232"/>
<line x1="1332.9" y1="420.5" x2="1332.9" y2="448.8" stroke="#ff3232" stroke-width="1.3"/>
<rect x="1330.62" y="425.3" width="4.5" height="21" fill="#ff3232"/>
<line x1="1339.8" y1="423.7" x2="1339.8" y2="435.2" stroke="#54ffff" stroke-width="1.3"/>
<rect x="1337.50" y="428.2" width="4.5" height="5.6" fill="#54ffff"/>
<line x1="1346.6" y1="420.4" x2="1346.6" y2="435.5" stroke="#ff3232" stroke-width="1.3"/>
<rect x="1344.38" y="421" width="4.5" height="12.8" fill="#ff3232"/>
<line x1="1353.5" y1="408.5" x2="1353.5" y2="425.8" stroke="#ff3232" stroke-width="1.3"/>
<rect x="1351.25" y="416.1" width="4.5" height="3.6" fill="#ff3232"/>
<line x1="1360.4" y1="405.6" x2="1360.4" y2="417.7" stroke="#ff3232" stroke-width="1.3"/>
<rect x="1358.12" y="405.8" width="4.5" height="8.9" fill="#ff3232"/>
<line x1="1367.2" y1="410.3" x2="1367.2" y2="428.7" stroke="#54ffff" stroke-width="1.3"/>
<rect x="1365.00" y="413" width="4.5" height="15.5" fill="#54ffff"/>
<line x1="1374.1" y1="426.6" x2="1374.1" y2="440.3" stroke="#ff3232" stroke-width="1.3"/>
<rect x="1371.88" y="427.1" width="4.5" height="12.8" fill="#ff3232"/>
<line x1="1381" y1="423.7" x2="1381" y2="433.8" stroke="#54ffff" stroke-width="1.3"/>
<rect x="1378.75" y="426.4" width="4.5" height="4.7" fill="#54ffff"/>
<line x1="1387.9" y1="432.5" x2="1387.9" y2="458.1" stroke="#54ffff" stroke-width="1.3"/>
<rect x="1385.62" y="433.2" width="4.5" height="22.8" fill="#54ffff"/>
<path d="M1394.75 450.7 V461.4 M1392.25 457.0 H1394.75" stroke="#54ffff" stroke-width="1.3" fill="none"/>
<line x1="1401.6" y1="450.7" x2="1401.6" y2="462.1" stroke="#54ffff" stroke-width="1.3"/>
<rect x="1399.38" y="453.8" width="4.5" height="4.9" fill="#54ffff"/>
<line x1="1408.5" y1="448" x2="1408.5" y2="464.1" stroke="#ff3232" stroke-width="1.3"/>
<rect x="1406.25" y="448.6" width="4.5" height="9.5" fill="#ff3232"/>
<line x1="1415.4" y1="439.9" x2="1415.4" y2="461.4" stroke="#54ffff" stroke-width="1.3"/>
<rect x="1413.12" y="443.3" width="4.5" height="17.5" fill="#54ffff"/>
<line x1="1422.2" y1="452.7" x2="1422.2" y2="465.5" stroke="#ff3232" stroke-width="1.3"/>
<rect x="1420.00" y="453.4" width="4.5" height="9.4" fill="#ff3232"/>
<line x1="1429.1" y1="420.4" x2="1429.1" y2="435.9" stroke="#ff3232" stroke-width="1.3"/>
<rect x="1426.88" y="425.5" width="4.5" height="2.7" fill="#ff3232"/>
<line x1="1436" y1="420.6" x2="1436" y2="429.5" stroke="#ff3232" stroke-width="1.3"/>
<rect x="1433.75" y="421" width="4.5" height="4.8" fill="#ff3232"/>
<line x1="1442.9" y1="423.3" x2="1442.9" y2="436.5" stroke="#ff3232" stroke-width="1.3"/>
<rect x="1440.62" y="428.5" width="4.5" height="5.3" fill="#ff3232"/>
<polyline points="6,111.9 12.9,104.9 19.8,99.3 26.6,96.4 33.5,93.4 40.4,90.2 47.2,89.2 54.1,87.9 61,87 67.9,87.9 74.8,89.8 81.6,94.4 88.5,99.6 95.4,104.8 102.2,110.6 109.1,115.7 116,120.6 122.9,124 129.8,127.7 136.6,131.5 143.5,137.7 150.4,143.3 157.2,149.5 164.1,154.9 171,159.1 177.9,163.4 184.8,166.7 191.6,169.9 198.5,173.3 205.4,174.6 212.2,175 219.1,174.4 226,171.4 232.9,168.9 239.8,166.7 246.6,165 253.5,165.1 260.4,168 267.2,172.1 274.1,174.7 281,177.5 287.9,179.8 294.8,181.7 301.6,183.6 308.5,186.8 315.4,189.7 322.2,192.7 329.1,195.1 336,197.6 342.9,200.2 349.8,202.9 356.6,206.7 363.5,211 370.4,214.9 377.2,218.4 384.1,222.8 391,226.9 397.9,227.4 404.8,227.6 411.6,229.6 418.5,230.4 425.4,232.1 432.2,233.6 439.1,235.1 446,235.1 452.9,234.5 459.8,234.2 466.6,234.5 473.5,235.4 480.4,235.6 487.2,235 494.1,233.8 501,231.9 507.9,229.7 514.8,227.7 521.6,224.7 528.5,222.6 535.4,222.1 542.2,221.6 549.1,220.5 556,219.6 562.9,220.4 569.8,220.5 576.6,220.7 583.5,221.6 590.4,222.6 597.2,223.5 604.1,224.8 611,226.8 617.9,229.3 624.8,231.6 631.6,234.1 638.5,236.3 645.4,239.9 652.2,246.2 659.1,252.4 666,258.4 672.9,263.9 679.8,269.6 686.6,275.5 693.5,281.8 700.4,287.1 707.2,292.3 714.1,298.4 721,304.7 727.9,312 734.8,319.9 741.6,327.4 748.5,332.5 755.4,337.1 762.2,343.3 769.1,347.6 776,352.3 782.9,356.5 789.8,358.8 796.6,361.4 803.5,363.6 810.4,364.8 817.2,364.8 824.1,363.5 831,361.7 837.9,359.7 844.8,359.2 851.6,357.3 858.5,355.5 865.4,354 872.2,353.3 879.1,353.4 886,355.7 892.9,356.7 899.8,357.4 906.6,358.3 913.5,358.8 920.4,359.4 927.2,359.7 934.1,361 941,362.3 947.9,365.7 954.8,369 961.6,372.6 968.5,376.6 975.4,379.8 982.2,382.8 989.1,384.6 996,386.6 1002.9,387.9 1009.8,388.5 1016.6,388.8 1023.5,388.4 1030.4,389 1037.2,389.9 1044.1,392.1 1051,394 1057.9,396.4 1064.8,398.9 1071.6,400.3 1078.5,400.7 1085.4,400.5 1092.2,401.5 1099.1,402.2 1106,401.8 1112.9,401.7 1119.8,400.2 1126.6,400.2 1133.5,399.6 1140.4,399.1 1147.2,397.4 1154.1,397.4 1161,397.4 1167.9,398 1174.8,400.5 1181.6,402.2 1188.5,405 1195.4,407.5 1202.2,409.7 1209.1,413.1 1216,415.9 1222.9,416.4 1229.8,417.6 1236.6,419.5 1243.5,422.1 1250.4,424.8 1257.2,430.1 1264.1,434.5 1271,438.8 1277.9,442.6 1284.8,445.6 1291.6,447 1298.5,448.5 1305.4,450.1 1312.2,448.8 1319.1,449.1 1326,447.9 1332.9,445.6 1339.8,444.1 1346.6,440.4 1353.5,437.8 1360.4,436.8 1367.2,435.8 1374.1,434.8 1381,434 1387.9,434.4 1394.8,433.7 1401.6,433.6 1408.5,433.6 1415.4,434.4 1422.2,436.2 1429.1,436.2 1436,435.9 1442.9,435.8" fill="none" stroke="#ff00ff" stroke-width="1.05" stroke-linejoin="round"/>
<polyline points="6,89.3 12.9,82.7 19.8,78.4 26.6,74.4 33.5,71.7 40.4,70.9 47.2,72.4 54.1,73.2 61,74.5 67.9,79.8 74.8,90 81.6,101.6 88.5,119.3 95.4,134.4 102.2,147.1 109.1,158.7 116,166.2 122.9,173.3 129.8,179.9 136.6,183.2 143.5,185.4 150.4,185 157.2,179.6 164.1,175.4 171,171 177.9,168.1 184.8,167.3 191.6,166.6 198.5,166.7 205.4,166 212.2,164.6 219.1,163.8 226,163.2 232.9,162.4 239.8,162.4 246.6,161.9 253.5,163 260.4,169.3 267.2,177.5 274.1,183.4 281,190.5 287.9,195.9 294.8,200.1 301.6,204.9 308.5,211.1 315.4,217.4 322.2,222.4 329.1,220.9 336,217.6 342.9,217.1 349.8,215.4 356.6,217.5 363.5,221.8 370.4,224.9 377.2,225.8 384.1,228.3 391,231.3 397.9,233.9 404.8,237.6 411.6,242 418.5,245.5 425.4,246.6 432.2,245.3 439.1,245.3 446,244.5 452.9,240.7 459.8,237.1 466.6,235.1 473.5,233.2 480.4,229.2 487.2,224.4 494.1,220.9 501,218.6 507.9,214.1 514.8,210.8 521.6,208.7 528.5,208.2 535.4,209.1 542.2,210.1 549.1,211.8 556,214.7 562.9,219.9 569.8,222.3 576.6,227.3 583.5,232.3 590.4,236.5 597.2,238.7 604.1,240.5 611,243.5 617.9,246.9 624.8,248.6 631.6,248.3 638.5,250.3 645.4,252.5 652.2,260.1 659.1,268.4 666,278.1 672.9,287.3 679.8,295.7 686.6,304.2 693.5,315.1 700.4,325.9 707.2,334.2 714.1,344.2 721,349.2 727.9,355.7 734.8,361.6 741.6,367.5 748.5,369.4 755.4,370.1 762.2,371.5 769.1,369.3 776,370.4 782.9,368.7 789.8,368.3 796.6,367.1 803.5,365.6 810.4,362.1 817.2,360.2 824.1,356.9 831,351.9 837.9,350.1 844.8,347.9 851.6,345.9 858.5,342.6 865.4,340.9 872.2,341 879.1,344.8 886,351.2 892.9,356.5 899.8,363 906.6,366.5 913.5,369.6 920.4,373 927.2,376.8 934.1,381.1 941,383.7 947.9,386.6 954.8,386.8 961.6,388.8 968.5,390.1 975.4,393 982.2,396 989.1,396.2 996,396.5 1002.9,394.7 1009.8,393.3 1016.6,391 1023.5,390.1 1030.4,389.3 1037.2,389.7 1044.1,391.1 1051,392 1057.9,396.6 1064.8,401.2 1071.6,405.9 1078.5,408.2 1085.4,410.1 1092.2,412.9 1099.1,415.1 1106,413.9 1112.9,412.4 1119.8,408.5 1126.6,403.8 1133.5,397.9 1140.4,392.2 1147.2,386.6 1154.1,384.8 1161,382 1167.9,381 1174.8,387.1 1181.6,392 1188.5,401.6 1195.4,411.2 1202.2,421.5 1209.1,434.1 1216,445.3 1222.9,448 1229.8,453.2 1236.6,458.1 1243.5,457.2 1250.4,457.6 1257.2,458.6 1264.1,457.7 1271,456.1 1277.9,451.1 1284.8,446 1291.6,446 1298.5,443.8 1305.4,442.1 1312.2,440.5 1319.1,440.5 1326,437.2 1332.9,433.6 1339.8,432.2 1346.6,429.7 1353.5,429.7 1360.4,427.6 1367.2,427.7 1374.1,427.5 1381,427.6 1387.9,428.3 1394.8,430.3 1401.6,433.6 1408.5,435.1 1415.4,439.1 1422.2,442.8 1429.1,444.8 1436,444 1442.9,444.2" fill="none" stroke="#ffff00" stroke-width="1.05" stroke-linejoin="round"/>
<polyline points="6,71.1 12.9,64.6 19.8,60.2 26.6,58.7 33.5,62.5 40.4,69 47.2,76.9 54.1,84.8 61,87.4 67.9,97.1 74.8,111.1 81.6,126.2 88.5,153.8 95.4,181.5 102.2,197.1 109.1,206.3 116,206.1 122.9,192.8 129.8,178.4 136.6,169.3 143.5,164.4 150.4,164 157.2,166.5 164.1,172.5 171,172.8 177.9,171.8 184.8,170.6 191.6,166.7 198.5,160.9 205.4,159.1 212.2,157.3 219.1,157 226,159.8 232.9,163.8 239.8,165.8 246.6,166.5 253.5,169 260.4,178.9 267.2,191.2 274.1,201 281,214.4 287.9,222.8 294.8,221.3 301.6,218.7 308.5,221.2 315.4,220.4 322.2,222 329.1,220.5 336,216.6 342.9,213 349.8,210.5 356.6,213 363.5,223.1 370.4,233.2 377.2,238.5 384.1,246 391,249.6 397.9,244.7 404.8,242 411.6,245.6 418.5,244.9 425.4,243.7 432.2,245.9 439.1,248.6 446,243.5 452.9,236.5 459.8,230.4 466.6,224.2 473.5,217.8 480.4,214.8 487.2,212.4 494.1,211.4 501,213 507.9,210.4 514.8,206.9 521.6,205 528.5,205 535.4,205.1 542.2,209.8 549.1,216.7 556,224.3 562.9,234.8 569.8,239.5 576.6,244.8 583.5,248 590.4,248.7 597.2,242.7 604.1,241.6 611,242.2 617.9,245.7 624.8,248.4 631.6,254 638.5,259.1 645.4,262.8 652.2,274.6 659.1,288.3 666,302.3 672.9,315.4 679.8,328.7 686.6,333.8 693.5,341.9 700.4,349.6 707.2,352.9 714.1,359.8 721,364.7 727.9,369.5 734.8,373.7 741.6,382.1 748.5,378.9 755.4,375.4 762.2,373.5 769.1,364.9 776,358.7 782.9,358.6 789.8,361.2 796.6,360.6 803.5,366.2 810.4,365.4 817.2,361.8 824.1,352.5 831,343.1 837.9,334 844.8,330.5 851.6,330 858.5,332.7 865.4,338.8 872.2,348 879.1,359.1 886,372.4 892.9,380.4 899.8,387.2 906.6,385 913.5,380.2 920.4,373.6 927.2,373.2 934.1,374.9 941,382.3 947.9,392.9 954.8,400.1 961.6,404.3 968.5,405.3 975.4,403.7 982.2,399 989.1,392.3 996,388.6 1002.9,384.1 1009.8,382.8 1016.6,383 1023.5,387.8 1030.4,390 1037.2,395.3 1044.1,399.4 1051,401 1057.9,405.4 1064.8,412.5 1071.6,416.5 1078.5,417.1 1085.4,419.1 1092.2,420.4 1099.1,417.7 1106,411.3 1112.9,407.7 1119.8,397.8 1126.6,387.3 1133.5,378.1 1140.4,373.2 1147.2,365.4 1154.1,371.8 1161,376.7 1167.9,383.8 1174.8,401 1181.6,418.6 1188.5,431.3 1195.4,445.8 1202.2,459.1 1209.1,467.1 1216,471.9 1222.9,464.7 1229.8,460.6 1236.6,457.1 1243.5,447.3 1250.4,443.4 1257.2,452.6 1264.1,454.8 1271,455.1 1277.9,454.9 1284.8,448.5 1291.6,439.4 1298.5,432.9 1305.4,429.1 1312.2,426 1319.1,432.5 1326,434.9 1332.9,434.3 1339.8,435.3 1346.6,433.4 1353.5,426.8 1360.4,420.4 1367.2,421 1374.1,419.7 1381,421.7 1387.9,429.7 1394.8,440.2 1401.6,446.2 1408.5,450.5 1415.4,456.4 1422.2,455.9 1429.1,449.4 1436,442.6 1442.9,439.2" fill="none" stroke="#ffffff" stroke-width="1.05" stroke-linejoin="round"/>
<polyline points="1236.8,244.3 1262,249.9 1287.3,254.4 1312.5,258.6 1337.8,263.6 1363,267.3 1388.2,272.4 1413.5,277.1 1442.1,281.8" fill="none" stroke="#00ff00" stroke-width="1.3"/>
<path d="M109.8 215 L117.3 223.7 H112.8 V231 H106.8 V223.7 H102.3 Z" fill="#ff0000"/>
<path d="M288.4 245 L295.9 253.7 H291.4 V261 H285.4 V253.7 H280.9 Z" fill="#ff0000"/>
<path d="M376.8 249.6 L384.3 258.3 H379.8 V265.6 H373.8 V258.3 H369.3 Z" fill="#ff0000"/>
<path d="M398 257.5 L405.5 266.2 H401 V273.5 H395 V266.2 H390.5 Z" fill="#ff0000"/>
<path d="M584.1 254 L591.6 262.7 H587.1 V270 H581.1 V262.7 H576.6 Z" fill="#ff0000"/>
<path d="M625.8 272 L633.3 280.7 H628.8 V288 H622.8 V280.7 H618.3 Z" fill="#ff0000"/>
<path d="M708.3 375.7 L715.8 384.4 H711.3 V391.7 H705.3 V384.4 H700.8 Z" fill="#ff0000"/>
<path d="M728 387.8 L735.5 396.5 H731 V403.8 H725 V396.5 H720.5 Z" fill="#ff0000"/>
<path d="M749.2 387.8 L756.7 396.5 H752.2 V403.8 H746.2 V396.5 H741.7 Z" fill="#ff0000"/>
<path d="M892.8 411.3 L900.3 420 H895.8 V427.3 H889.8 V420 H885.3 Z" fill="#ff0000"/>
<path d="M962.2 411.3 L969.7 420 H965.2 V427.3 H959.2 V420 H954.7 Z" fill="#ff0000"/>
<path d="M1052 416 L1059.5 424.7 H1055 V432 H1049 V424.7 H1044.5 Z" fill="#ff0000"/>
<path d="M1078.9 429.8 L1086.4 438.5 H1081.9 V445.8 H1075.9 V438.5 H1071.4 Z" fill="#ff0000"/>
<path d="M1099.9 432.8 L1107.4 441.5 H1102.9 V448.8 H1096.9 V441.5 H1092.4 Z" fill="#ff0000"/>
<path d="M1410.5 467.5 L1418 476.2 H1413.5 V483.5 H1407.5 V476.2 H1403 Z" fill="#ff0000"/>
<path d="M209.10 140.30 H214.50 V147.60 H218.50 L211.80 155.20 L205.10 147.60 H209.10 Z" fill="none" stroke="#00f000" stroke-width="1.3" stroke-linejoin="round"/>
<path d="M491.30 186.50 H496.70 V193.80 H500.70 L494.00 201.40 L487.30 193.80 H491.30 Z" fill="none" stroke="#00f000" stroke-width="1.3" stroke-linejoin="round"/>
<path d="M525.70 180.20 H531.10 V187.50 H535.10 L528.40 195.10 L521.70 187.50 H525.70 Z" fill="none" stroke="#00f000" stroke-width="1.3" stroke-linejoin="round"/>
<path d="M842.50 311.20 H847.90 V318.50 H851.90 L845.20 326.10 L838.50 318.50 H842.50 Z" fill="none" stroke="#00f000" stroke-width="1.3" stroke-linejoin="round"/>
<path d="M1152.60 358.70 H1158.00 V366.00 H1162.00 L1155.30 373.60 L1148.60 366.00 H1152.60 Z" fill="none" stroke="#00f000" stroke-width="1.3" stroke-linejoin="round"/>
<path d="M1296.60 405.50 H1302.00 V412.80 H1306.00 L1299.30 420.40 L1292.60 412.80 H1296.60 Z" fill="none" stroke="#00f000" stroke-width="1.3" stroke-linejoin="round"/>
<path d="M1365.70 392.00 H1371.10 V399.30 H1375.10 L1368.40 406.90 L1361.70 399.30 H1365.70 Z" fill="none" stroke="#00f000" stroke-width="1.3" stroke-linejoin="round"/>
<path d="M237.4 178 H243.4 V185.3 H247.9 L240.4 194 L232.9 185.3 H237.4 Z" fill="#00ff00"/>
<path d="M198.6 15.8 L206.1 24.5 H201.6 V31.8 H195.6 V24.5 H191.1 Z" fill="#ff0000"/>
<text transform="matrix(1.0516 0 0 1.1297 47.62 56.20)" fill="#c0c0c0" font-size="17.5" stroke="#000" stroke-width="0.22">3587.03</text>
<text transform="matrix(1.0451 0 0 1.1297 1235.84 520.10)" fill="#c0c0c0" font-size="17.5" stroke="#000" stroke-width="0.22">2449.20</text>
<g clip-path="url(#cp)">
<text transform="matrix(1.0086 0 0 1.1215 1427.87 473.40)" fill="#c0c0c0" font-size="17.5" stroke="#000" stroke-width="0.22">2590</text>
</g>
<line x1="6.7" y1="38.1" x2="1468" y2="480.3" stroke="#0000ff" stroke-width="1.4"/>
<line x1="2" y1="149.7" x2="1228.4" y2="520.4" stroke="#0000ff" stroke-width="1.4"/>
<line x1="385" y1="39.2" x2="1468" y2="366.2" stroke="#0000ff" stroke-width="1.4"/>
<line x1="2" y1="432" x2="1468" y2="432" stroke="#0000ff" stroke-width="1.6"/>
<line x1="828" y1="519.5" x2="1468" y2="376" stroke="#0000ff" stroke-width="1.4"/>
<line x1="1168.5" y1="520.9" x2="1468" y2="452.7" stroke="#0000ff" stroke-width="1.4"/>
<path d="M1216.5 513.5 L1221.5 519.5 H1211 Z" fill="#ff3232"/>
<path d="M26.4 43.2 L43.8 47.8 M26.4 43.2 L32 40 M26.4 43.2 L29.8 48.2" stroke="#c0c0c0" stroke-width="1.2" fill="none"/>
<path d="M1216 511.4 H1233.5 M1216 511.4 l4 -2.5 M1216 511.4 l4 2.5" stroke="#c0c0c0" stroke-width="1.3" fill="none"/>
<line x1="1468.2" y1="10" x2="1468.2" y2="714" stroke="#b00000" stroke-width="2"/>
<line x1="1469" y1="714" x2="1469" y2="879" stroke="#b00000" stroke-width="3.2"/>
<line x1="2" y1="538.6" x2="1486" y2="538.6" stroke="#b00000" stroke-width="1.6"/>
<line x1="2" y1="714" x2="1486" y2="714" stroke="#900000" stroke-width="2.1"/>
<line x1="1468" y1="691.5" x2="1486" y2="691.5" stroke="#b00000" stroke-width="1.6"/>
<line x1="1468" y1="35.6" x2="1476.3" y2="35.6" stroke="#b00000" stroke-width="1.6"/>
<line x1="1468" y1="76.9" x2="1472" y2="76.9" stroke="#b00000" stroke-width="1.6"/>
<line x1="1468" y1="118.2" x2="1476.3" y2="118.2" stroke="#b00000" stroke-width="1.6"/>
<line x1="1468" y1="159.5" x2="1472" y2="159.5" stroke="#b00000" stroke-width="1.6"/>
<line x1="1468" y1="200.8" x2="1476.3" y2="200.8" stroke="#b00000" stroke-width="1.6"/>
<line x1="1468" y1="242.1" x2="1472" y2="242.1" stroke="#b00000" stroke-width="1.6"/>
<line x1="1468" y1="283.4" x2="1476.3" y2="283.4" stroke="#b00000" stroke-width="1.6"/>
<line x1="1468" y1="324.7" x2="1472" y2="324.7" stroke="#b00000" stroke-width="1.6"/>
<line x1="1468" y1="366" x2="1476.3" y2="366" stroke="#b00000" stroke-width="1.6"/>
<line x1="1468" y1="407.3" x2="1472" y2="407.3" stroke="#b00000" stroke-width="1.6"/>
<line x1="1468" y1="448.6" x2="1476.3" y2="448.6" stroke="#b00000" stroke-width="1.6"/>
<line x1="1468" y1="609" x2="1476.3" y2="609" stroke="#b00000" stroke-width="1.6"/>
<line x1="1468" y1="634.6" x2="1472" y2="634.6" stroke="#b00000" stroke-width="1.6"/>
<line x1="1468" y1="659.8" x2="1476.3" y2="659.8" stroke="#b00000" stroke-width="1.6"/>
<line x1="1484.5" y1="759" x2="1486" y2="759" stroke="#b00000" stroke-width="1.6"/>
<path d="M1435.4 17.6 L1443.2 25.4 L1435.4 33.2 L1427.6 25.4 Z" fill="none" stroke="#b00000" stroke-width="1.4"/>
<path d="M1450.2 17.9 H1464 V32.9 H1450.2 Z M1459.1 17.9 V32.9" fill="none" stroke="#b00000" stroke-width="1.5"/>
<path d="M1421 39.6 h4.7 m1.4 0 h4.7 m2.5 0 h4.7 m1.4 0 h4.7" stroke="#ff00ff" stroke-width="3" fill="none"/>
<rect x="3.75" y="581" width="4.5" height="131" fill="#ff3232"/>
<rect x="10.62" y="587.5" width="4.5" height="124.5" fill="#54ffff"/>
<rect x="17.50" y="597.7" width="4.5" height="114.3" fill="#ff3232"/>
<rect x="24.38" y="590.2" width="4.5" height="121.8" fill="#54ffff"/>
<rect x="31.25" y="615.8" width="4.5" height="96.2" fill="#54ffff"/>
<rect x="38.12" y="605.1" width="4.5" height="106.9" fill="#ff3232"/>
<rect x="45.00" y="578.3" width="4.5" height="133.7" fill="#54ffff"/>
<rect x="51.88" y="605.1" width="4.5" height="106.9" fill="#ff3232"/>
<rect x="58.75" y="600.4" width="4.5" height="111.6" fill="#ff3232"/>
<rect x="65.62" y="567.6" width="4.5" height="144.4" fill="#54ffff"/>
<rect x="72.50" y="578.3" width="4.5" height="133.7" fill="#54ffff"/>
<rect x="79.38" y="608.2" width="4.5" height="103.8" fill="#54ffff"/>
<rect x="86.25" y="579.5" width="4.5" height="132.5" fill="#54ffff"/>
<rect x="93.12" y="632.1" width="4.5" height="79.9" fill="#ff3232"/>
<rect x="100.00" y="633.8" width="4.5" height="78.2" fill="#ff3232"/>
<rect x="106.88" y="659.2" width="4.5" height="52.8" fill="#ff3232"/>
<rect x="113.75" y="639.7" width="4.5" height="72.3" fill="#ff3232"/>
<rect x="120.62" y="639.7" width="4.5" height="72.3" fill="#ff3232"/>
<rect x="127.50" y="614.7" width="4.5" height="97.3" fill="#ff3232"/>
<rect x="134.38" y="620.9" width="4.5" height="91.1" fill="#54ffff"/>
<rect x="141.25" y="633.8" width="4.5" height="78.2" fill="#54ffff"/>
<rect x="148.12" y="629.1" width="4.5" height="82.9" fill="#ff3232"/>
<rect x="155.00" y="633.8" width="4.5" height="78.2" fill="#ff3232"/>
<rect x="161.88" y="636.6" width="4.5" height="75.4" fill="#ff3232"/>
<rect x="168.75" y="611.3" width="4.5" height="100.7" fill="#ff3232"/>
<rect x="175.62" y="624.6" width="4.5" height="87.4" fill="#54ffff"/>
<rect x="182.50" y="633.8" width="4.5" height="78.2" fill="#ff3232"/>
<rect x="189.38" y="626" width="4.5" height="86" fill="#ff3232"/>
<rect x="196.25" y="605.1" width="4.5" height="106.9" fill="#ff3232"/>
<rect x="203.12" y="620.3" width="4.5" height="91.7" fill="#54ffff"/>
<rect x="210.00" y="630.7" width="4.5" height="81.3" fill="#54ffff"/>
<rect x="216.88" y="635.2" width="4.5" height="76.8" fill="#ff3232"/>
<rect x="223.75" y="638.3" width="4.5" height="73.7" fill="#54ffff"/>
<rect x="230.62" y="639.7" width="4.5" height="72.3" fill="#ff3232"/>
<rect x="237.50" y="639.7" width="4.5" height="72.3" fill="#ff3232"/>
<rect x="244.38" y="624.6" width="4.5" height="87.4" fill="#54ffff"/>
<rect x="251.25" y="635.2" width="4.5" height="76.8" fill="#54ffff"/>
<rect x="258.12" y="570.7" width="4.5" height="141.3" fill="#54ffff"/>
<rect x="265.00" y="615.8" width="4.5" height="96.2" fill="#ff3232"/>
<rect x="271.88" y="614.1" width="4.5" height="97.9" fill="#ff3232"/>
<rect x="278.75" y="627.6" width="4.5" height="84.4" fill="#54ffff"/>
<rect x="285.62" y="623.9" width="4.5" height="88.1" fill="#ff3232"/>
<rect x="292.50" y="632.1" width="4.5" height="79.9" fill="#ff3232"/>
<rect x="299.38" y="621.5" width="4.5" height="90.5" fill="#54ffff"/>
<rect x="306.25" y="633.8" width="4.5" height="78.2" fill="#ff3232"/>
<rect x="313.12" y="635.2" width="4.5" height="76.8" fill="#54ffff"/>
<rect x="320.00" y="639.7" width="4.5" height="72.3" fill="#ff3232"/>
<rect x="326.88" y="626" width="4.5" height="86" fill="#ff3232"/>
<rect x="333.75" y="620.3" width="4.5" height="91.7" fill="#ff3232"/>
<rect x="340.62" y="635.2" width="4.5" height="76.8" fill="#54ffff"/>
<rect x="347.50" y="645.7" width="4.5" height="66.3" fill="#54ffff"/>
<rect x="354.38" y="632.5" width="4.5" height="79.5" fill="#54ffff"/>
<rect x="361.25" y="632.5" width="4.5" height="79.5" fill="#54ffff"/>
<rect x="368.12" y="629.3" width="4.5" height="82.7" fill="#54ffff"/>
<rect x="375.00" y="629.3" width="4.5" height="82.7" fill="#ff3232"/>
<rect x="381.88" y="631.1" width="4.5" height="80.9" fill="#54ffff"/>
<rect x="388.75" y="642.8" width="4.5" height="69.2" fill="#ff3232"/>
<rect x="395.62" y="627.6" width="4.5" height="84.4" fill="#ff3232"/>
<rect x="402.50" y="645.7" width="4.5" height="66.3" fill="#ff3232"/>
<rect x="409.38" y="642.8" width="4.5" height="69.2" fill="#54ffff"/>
<rect x="416.25" y="644.2" width="4.5" height="67.8" fill="#54ffff"/>
<rect x="423.12" y="642.8" width="4.5" height="69.2" fill="#54ffff"/>
<rect x="430.00" y="639.7" width="4.5" height="72.3" fill="#ff3232"/>
<rect x="436.88" y="650.2" width="4.5" height="61.8" fill="#54ffff"/>
<rect x="443.75" y="640.3" width="4.5" height="71.7" fill="#ff3232"/>
<rect x="450.62" y="635.2" width="4.5" height="76.8" fill="#ff3232"/>
<rect x="457.50" y="648.7" width="4.5" height="63.3" fill="#54ffff"/>
<rect x="464.38" y="643.4" width="4.5" height="68.6" fill="#ff3232"/>
<rect x="471.25" y="644.2" width="4.5" height="67.8" fill="#54ffff"/>
<rect x="478.12" y="644.2" width="4.5" height="67.8" fill="#ff3232"/>
<rect x="485.00" y="646.5" width="4.5" height="65.5" fill="#ff3232"/>
<rect x="491.88" y="645.7" width="4.5" height="66.3" fill="#54ffff"/>
<rect x="498.75" y="651.6" width="4.5" height="60.4" fill="#54ffff"/>
<rect x="505.62" y="641.1" width="4.5" height="70.9" fill="#ff3232"/>
<rect x="512.50" y="626.2" width="4.5" height="85.8" fill="#ff3232"/>
<rect x="519.38" y="636.6" width="4.5" height="75.4" fill="#ff3232"/>
<rect x="526.25" y="630.7" width="4.5" height="81.3" fill="#54ffff"/>
<rect x="533.12" y="647.1" width="4.5" height="64.9" fill="#54ffff"/>
<rect x="540.00" y="645.7" width="4.5" height="66.3" fill="#54ffff"/>
<rect x="546.88" y="644.2" width="4.5" height="67.8" fill="#54ffff"/>
<rect x="553.75" y="642.6" width="4.5" height="69.4" fill="#54ffff"/>
<rect x="560.62" y="632.1" width="4.5" height="79.9" fill="#54ffff"/>
<rect x="567.50" y="641.1" width="4.5" height="70.9" fill="#ff3232"/>
<rect x="574.38" y="644.2" width="4.5" height="67.8" fill="#54ffff"/>
<rect x="581.25" y="651.6" width="4.5" height="60.4" fill="#ff3232"/>
<rect x="588.12" y="650.2" width="4.5" height="61.8" fill="#ff3232"/>
<rect x="595.00" y="648.7" width="4.5" height="63.3" fill="#ff3232"/>
<rect x="601.88" y="645.7" width="4.5" height="66.3" fill="#54ffff"/>
<rect x="608.75" y="641.1" width="4.5" height="70.9" fill="#54ffff"/>
<rect x="615.62" y="654.7" width="4.5" height="57.3" fill="#54ffff"/>
<rect x="622.50" y="653" width="4.5" height="59" fill="#ff3232"/>
<rect x="629.38" y="648.7" width="4.5" height="63.3" fill="#54ffff"/>
<rect x="636.25" y="651.6" width="4.5" height="60.4" fill="#ff3232"/>
<rect x="643.12" y="636.6" width="4.5" height="75.4" fill="#54ffff"/>
<rect x="650.00" y="593.2" width="4.5" height="118.8" fill="#54ffff"/>
<rect x="656.88" y="636.6" width="4.5" height="75.4" fill="#ff3232"/>
<rect x="663.75" y="632.1" width="4.5" height="79.9" fill="#54ffff"/>
<rect x="670.62" y="645.7" width="4.5" height="66.3" fill="#ff3232"/>
<rect x="677.50" y="648.7" width="4.5" height="63.3" fill="#54ffff"/>
<rect x="684.38" y="645.7" width="4.5" height="66.3" fill="#ff3232"/>
<rect x="691.25" y="644.2" width="4.5" height="67.8" fill="#54ffff"/>
<rect x="698.12" y="650.2" width="4.5" height="61.8" fill="#54ffff"/>
<rect x="705.00" y="648.7" width="4.5" height="63.3" fill="#ff3232"/>
<rect x="711.88" y="641.1" width="4.5" height="70.9" fill="#54ffff"/>
<rect x="718.75" y="638.3" width="4.5" height="73.7" fill="#ff3232"/>
<rect x="725.62" y="647.1" width="4.5" height="64.9" fill="#54ffff"/>
<rect x="732.50" y="647.1" width="4.5" height="64.9" fill="#54ffff"/>
<rect x="739.38" y="641.6" width="4.5" height="70.4" fill="#ff3232"/>
<rect x="746.25" y="648.7" width="4.5" height="63.3" fill="#ff3232"/>
<rect x="753.12" y="650.2" width="4.5" height="61.8" fill="#ff3232"/>
<rect x="760.00" y="647.1" width="4.5" height="64.9" fill="#54ffff"/>
<rect x="766.88" y="635.2" width="4.5" height="76.8" fill="#ff3232"/>
<rect x="773.75" y="650.2" width="4.5" height="61.8" fill="#54ffff"/>
<rect x="780.62" y="656.1" width="4.5" height="55.9" fill="#54ffff"/>
<rect x="787.50" y="656.1" width="4.5" height="55.9" fill="#54ffff"/>
<rect x="794.38" y="650.2" width="4.5" height="61.8" fill="#54ffff"/>
<rect x="801.25" y="653" width="4.5" height="59" fill="#54ffff"/>
<rect x="808.12" y="636.6" width="4.5" height="75.4" fill="#ff3232"/>
<rect x="815.00" y="621.7" width="4.5" height="90.3" fill="#ff3232"/>
<rect x="821.88" y="593.2" width="4.5" height="118.8" fill="#ff3232"/>
<rect x="828.75" y="624.8" width="4.5" height="87.2" fill="#54ffff"/>
<rect x="835.62" y="624.8" width="4.5" height="87.2" fill="#54ffff"/>
<rect x="842.50" y="636.6" width="4.5" height="75.4" fill="#54ffff"/>
<rect x="849.38" y="633.8" width="4.5" height="78.2" fill="#54ffff"/>
<rect x="856.25" y="650.2" width="4.5" height="61.8" fill="#ff3232"/>
<rect x="863.12" y="633.8" width="4.5" height="78.2" fill="#54ffff"/>
<rect x="870.00" y="621.7" width="4.5" height="90.3" fill="#54ffff"/>
<rect x="876.88" y="645.7" width="4.5" height="66.3" fill="#54ffff"/>
<rect x="883.75" y="644.2" width="4.5" height="67.8" fill="#54ffff"/>
<rect x="890.62" y="634.2" width="4.5" height="77.8" fill="#ff3232"/>
<rect x="897.50" y="635.2" width="4.5" height="76.8" fill="#54ffff"/>
<rect x="904.38" y="633.8" width="4.5" height="78.2" fill="#ff3232"/>
<rect x="911.25" y="648.7" width="4.5" height="63.3" fill="#ff3232"/>
<rect x="918.12" y="645.7" width="4.5" height="66.3" fill="#ff3232"/>
<rect x="925.00" y="654.7" width="4.5" height="57.3" fill="#ff3232"/>
<rect x="931.88" y="651.6" width="4.5" height="60.4" fill="#54ffff"/>
<rect x="938.75" y="650.2" width="4.5" height="61.8" fill="#ff3232"/>
<rect x="945.62" y="653" width="4.5" height="59" fill="#54ffff"/>
<rect x="952.50" y="654.7" width="4.5" height="57.3" fill="#ff3232"/>
<rect x="959.38" y="653" width="4.5" height="59" fill="#ff3232"/>
<rect x="966.25" y="662" width="4.5" height="50" fill="#54ffff"/>
<rect x="973.12" y="660.6" width="4.5" height="51.4" fill="#ff3232"/>
<rect x="980.00" y="659.2" width="4.5" height="52.8" fill="#ff3232"/>
<rect x="986.88" y="642.6" width="4.5" height="69.4" fill="#ff3232"/>
<rect x="993.75" y="650.2" width="4.5" height="61.8" fill="#54ffff"/>
<rect x="1000.62" y="659.2" width="4.5" height="52.8" fill="#54ffff"/>
<rect x="1007.50" y="656.1" width="4.5" height="55.9" fill="#54ffff"/>
<rect x="1014.38" y="656.1" width="4.5" height="55.9" fill="#54ffff"/>
<rect x="1021.25" y="657.5" width="4.5" height="54.5" fill="#ff3232"/>
<rect x="1028.12" y="654.7" width="4.5" height="57.3" fill="#ff3232"/>
<rect x="1035.00" y="656.1" width="4.5" height="55.9" fill="#54ffff"/>
<rect x="1041.88" y="660.6" width="4.5" height="51.4" fill="#54ffff"/>
<rect x="1048.75" y="656.1" width="4.5" height="55.9" fill="#ff3232"/>
<rect x="1055.62" y="659.2" width="4.5" height="52.8" fill="#54ffff"/>
<rect x="1062.50" y="659.2" width="4.5" height="52.8" fill="#54ffff"/>
<rect x="1069.38" y="665.1" width="4.5" height="46.9" fill="#54ffff"/>
<rect x="1076.25" y="656.1" width="4.5" height="55.9" fill="#ff3232"/>
<rect x="1083.12" y="660.6" width="4.5" height="51.4" fill="#54ffff"/>
<rect x="1090.00" y="665.1" width="4.5" height="46.9" fill="#54ffff"/>
<rect x="1096.88" y="651.6" width="4.5" height="60.4" fill="#ff3232"/>
<rect x="1103.75" y="638.3" width="4.5" height="73.7" fill="#ff3232"/>
<rect x="1110.62" y="656.1" width="4.5" height="55.9" fill="#54ffff"/>
<rect x="1117.50" y="630.7" width="4.5" height="81.3" fill="#ff3232"/>
<rect x="1124.38" y="654.7" width="4.5" height="57.3" fill="#ff3232"/>
<rect x="1131.25" y="639.7" width="4.5" height="72.3" fill="#ff3232"/>
<rect x="1138.12" y="647.1" width="4.5" height="64.9" fill="#54ffff"/>
<rect x="1145.00" y="644.2" width="4.5" height="67.8" fill="#ff3232"/>
<rect x="1151.88" y="633.8" width="4.5" height="78.2" fill="#54ffff"/>
<rect x="1158.75" y="651.6" width="4.5" height="60.4" fill="#ff3232"/>
<rect x="1165.62" y="653" width="4.5" height="59" fill="#ff3232"/>
<rect x="1172.50" y="609.6" width="4.5" height="102.4" fill="#54ffff"/>
<rect x="1179.38" y="623.1" width="4.5" height="88.9" fill="#ff3232"/>
<rect x="1186.25" y="650.2" width="4.5" height="61.8" fill="#54ffff"/>
<rect x="1193.12" y="650.2" width="4.5" height="61.8" fill="#54ffff"/>
<rect x="1200.00" y="644.2" width="4.5" height="67.8" fill="#54ffff"/>
<rect x="1206.88" y="647.1" width="4.5" height="64.9" fill="#54ffff"/>
<rect x="1213.75" y="635.2" width="4.5" height="76.8" fill="#ff3232"/>
<rect x="1220.62" y="602.2" width="4.5" height="109.8" fill="#ff3232"/>
<rect x="1227.50" y="620.3" width="4.5" height="91.7" fill="#54ffff"/>
<rect x="1234.38" y="629.3" width="4.5" height="82.7" fill="#ff3232"/>
<rect x="1241.25" y="627.6" width="4.5" height="84.4" fill="#ff3232"/>
<rect x="1248.12" y="629.3" width="4.5" height="82.7" fill="#54ffff"/>
<rect x="1255.00" y="642.6" width="4.5" height="69.4" fill="#54ffff"/>
<rect x="1261.88" y="626.2" width="4.5" height="85.8" fill="#ff3232"/>
<rect x="1268.75" y="618.6" width="4.5" height="93.4" fill="#ff3232"/>
<rect x="1275.62" y="608.2" width="4.5" height="103.8" fill="#54ffff"/>
<rect x="1282.50" y="596.3" width="4.5" height="115.7" fill="#ff3232"/>
<rect x="1289.38" y="611.3" width="4.5" height="100.7" fill="#54ffff"/>
<rect x="1296.25" y="627.6" width="4.5" height="84.4" fill="#54ffff"/>
<rect x="1303.12" y="621.7" width="4.5" height="90.3" fill="#54ffff"/>
<rect x="1310.00" y="629.3" width="4.5" height="82.7" fill="#54ffff"/>
<rect x="1316.88" y="632.1" width="4.5" height="79.9" fill="#54ffff"/>
<rect x="1323.75" y="623.1" width="4.5" height="88.9" fill="#ff3232"/>
<rect x="1330.62" y="584.2" width="4.5" height="127.8" fill="#ff3232"/>
<rect x="1337.50" y="588.7" width="4.5" height="123.3" fill="#54ffff"/>
<rect x="1344.38" y="605.3" width="4.5" height="106.7" fill="#ff3232"/>
<rect x="1351.25" y="587.3" width="4.5" height="124.7" fill="#ff3232"/>
<rect x="1358.12" y="593.2" width="4.5" height="118.8" fill="#ff3232"/>
<rect x="1365.00" y="600.8" width="4.5" height="111.2" fill="#54ffff"/>
<rect x="1371.88" y="617.2" width="4.5" height="94.8" fill="#ff3232"/>
<rect x="1378.75" y="633.8" width="4.5" height="78.2" fill="#54ffff"/>
<rect x="1385.62" y="612.7" width="4.5" height="99.3" fill="#54ffff"/>
<rect x="1392.50" y="642.6" width="4.5" height="69.4" fill="#54ffff"/>
<rect x="1399.38" y="647.1" width="4.5" height="64.9" fill="#54ffff"/>
<rect x="1406.25" y="636.6" width="4.5" height="75.4" fill="#ff3232"/>
<rect x="1413.12" y="630.7" width="4.5" height="81.3" fill="#54ffff"/>
<rect x="1420.00" y="639.7" width="4.5" height="72.3" fill="#ff3232"/>
<rect x="1426.88" y="605.3" width="4.5" height="106.7" fill="#ff3232"/>
<rect x="1433.75" y="624.8" width="4.5" height="87.2" fill="#ff3232"/>
<rect x="1440.62" y="632.1" width="4.5" height="79.9" fill="#ff3232"/>
<polyline points="6,598.2 12.9,594.1 19.8,592.7 26.6,590.8 33.5,592.4 40.4,595.2 47.2,593.8 54.1,595.3 61,595.1 67.9,592.9 74.8,592.6 81.6,594.7 88.5,592.8 95.4,597 102.2,598.8 109.1,604.3 116,610.4 122.9,613.9 129.8,615.3 136.6,620.6 143.5,626.2 150.4,628.2 157.2,633.7 164.1,634.1 171,631.9 177.9,628.4 184.8,627.8 191.6,626.4 198.5,625.5 205.4,625.4 212.2,625.1 219.1,625.7 226,626.2 232.9,626.5 239.8,629.3 246.6,629.3 253.5,629.5 260.4,623.9 267.2,625 274.1,624.4 281,624.1 287.9,623 294.8,622.4 301.6,620.5 308.5,619.9 315.4,621 322.2,621.4 329.1,627 336,627.4 342.9,629.5 349.8,631.3 356.6,632.2 363.5,632.2 370.4,633 377.2,632.6 384.1,632.2 391,632.5 397.9,632.6 404.8,635.2 411.6,635.9 418.5,635.8 425.4,636.8 432.2,637.5 439.1,639.6 446,640.7 452.9,641.1 459.8,641.7 466.6,643.3 473.5,643.2 480.4,643.3 487.2,643.5 494.1,643.8 501,645 507.9,644.1 514.8,642.7 521.6,642.8 528.5,641 535.4,641.4 542.2,641.5 549.1,641.5 556,641.1 562.9,639.8 569.8,638.8 576.6,639.1 583.5,641.6 590.4,642.9 597.2,644.8 604.1,644.6 611,644.2 617.9,645.2 624.8,646.2 631.6,647.9 638.5,648.9 645.4,648.2 652.2,642.4 659.1,641 666,639.3 672.9,639.3 679.8,640.1 686.6,639.2 693.5,638.3 700.4,638.5 707.2,638.2 714.1,638.6 721,643.1 727.9,644.2 734.8,645.7 741.6,645.3 748.5,645.3 755.4,645.7 762.2,646 769.1,644.5 776,644.6 782.9,646.1 789.8,647.9 796.6,648.2 803.5,648.8 810.4,648.3 817.2,645.6 824.1,639.9 831,637.7 837.9,636.7 844.8,635.3 851.6,633.1 858.5,632.5 865.4,630.8 872.2,627.7 879.1,628.6 886,630.9 892.9,635 899.8,636 906.6,636.9 913.5,638.1 920.4,639.3 927.2,639.8 934.1,641.5 941,644.4 947.9,645.1 954.8,646.2 961.6,648 968.5,650.7 975.4,653.4 982.2,654.5 989.1,654.1 996,653.7 1002.9,654.5 1009.8,655 1016.6,655.4 1023.5,655.6 1030.4,655.8 1037.2,655.2 1044.1,655.2 1051,654.9 1057.9,656.6 1064.8,657.5 1071.6,658.1 1078.5,658.1 1085.4,658.5 1092.2,659.3 1099.1,659 1106,657.2 1112.9,656.7 1119.8,654.2 1126.6,653.7 1133.5,651.8 1140.4,650 1147.2,648.8 1154.1,646.1 1161,644.8 1167.9,644.9 1174.8,642 1181.6,638.8 1188.5,640.7 1195.4,640.2 1202.2,640.7 1209.1,640.7 1216,639.8 1222.9,636.6 1229.8,633.5 1236.6,631.1 1243.5,632.9 1250.4,633.6 1257.2,632.8 1264.1,630.4 1271,627.8 1277.9,623.9 1284.8,620.1 1291.6,621 1298.5,621.7 1305.4,620.9 1312.2,621.1 1319.1,621.4 1326,619.4 1332.9,615.2 1339.8,612.3 1346.6,612 1353.5,611.1 1360.4,609.3 1367.2,606.6 1374.1,606.1 1381,606.6 1387.9,604.6 1394.8,606.6 1401.6,612.9 1408.5,617.7 1415.4,620.2 1422.2,625.4 1429.1,626.7 1436,629 1442.9,630.5" fill="none" stroke="#ffff00" stroke-width="1.05" stroke-linejoin="round"/>
<polyline points="6,590.7 12.9,589.4 19.8,590.7 26.6,589.1 33.5,594.4 40.4,599.3 47.2,597.4 54.1,598.9 61,600.9 67.9,591.3 74.8,585.9 81.6,591.9 88.5,586.8 95.4,593.2 102.2,606.4 109.1,622.6 116,628.9 122.9,640.9 129.8,637.4 136.6,634.8 143.5,629.8 150.4,627.6 157.2,626.4 164.1,630.8 171,628.9 177.9,627.1 184.8,628 191.6,626.4 198.5,620.1 205.4,621.9 212.2,623.2 219.1,623.5 226,625.9 232.9,632.8 239.8,636.7 246.6,635.5 253.5,635.5 260.4,622 267.2,617.2 274.1,612.1 281,612.7 287.9,610.4 294.8,622.7 301.6,623.9 308.5,627.8 315.4,629.3 322.2,632.5 329.1,631.2 336,631 342.9,631.3 349.8,633.4 356.6,631.9 363.5,633.2 370.4,635 377.2,633.9 384.1,631 391,633 397.9,632 404.8,635.3 411.6,638 418.5,640.6 425.4,640.6 432.2,643 439.1,643.9 446,643.4 452.9,641.6 459.8,642.8 466.6,643.6 473.5,642.4 480.4,643.2 487.2,645.4 494.1,644.8 501,646.4 507.9,645.8 514.8,642.2 521.6,640.2 528.5,637.3 535.4,636.4 542.2,637.3 549.1,640.9 556,642 562.9,642.3 569.8,641.1 576.6,640.9 583.5,642.3 590.4,643.8 597.2,647.2 604.1,648.1 611,647.5 617.9,648.1 624.8,648.6 631.6,648.6 638.5,649.8 645.4,648.9 652.2,636.6 659.1,633.4 666,630 672.9,628.9 679.8,631.3 686.6,641.8 693.5,643.3 700.4,646.9 707.2,647.5 714.1,646 721,644.5 727.9,645.1 734.8,644.5 741.6,643 748.5,644.5 755.4,646.9 762.2,646.9 769.1,644.5 776,646.3 782.9,647.7 789.8,648.9 796.6,649.5 803.5,653.1 810.4,650.4 817.2,643.5 824.1,631 831,625.9 837.9,620.2 844.8,620.2 851.6,622.6 858.5,634 865.4,635.8 872.2,635.2 879.1,637 886,639.1 892.9,635.9 899.8,636.2 906.6,638.6 913.5,639.2 920.4,639.5 927.2,643.6 934.1,646.9 941,650.2 947.9,651 954.8,652.8 961.6,652.5 968.5,654.6 975.4,656.7 982.2,657.9 989.1,655.5 996,654.9 1002.9,654.3 1009.8,653.4 1016.6,652.8 1023.5,655.8 1030.4,656.7 1037.2,656.1 1044.1,657 1051,657 1057.9,657.3 1064.8,658.2 1071.6,660 1078.5,659.1 1085.4,660 1092.2,661.2 1099.1,659.7 1106,654.3 1112.9,654.3 1119.8,648.4 1126.6,646.3 1133.5,643.9 1140.4,645.7 1147.2,643.3 1154.1,643.9 1161,643.3 1167.9,645.9 1174.8,638.4 1181.6,634.2 1188.5,637.5 1195.4,637.2 1202.2,635.5 1209.1,642.9 1216,645.4 1222.9,635.8 1229.8,629.8 1236.6,626.8 1243.5,622.9 1250.4,621.7 1257.2,629.8 1264.1,631 1271,628.9 1277.9,625 1284.8,618.4 1291.6,612.1 1298.5,612.4 1305.4,613 1312.2,617.2 1319.1,624.4 1326,626.8 1332.9,618.1 1339.8,611.5 1346.6,606.7 1353.5,597.7 1360.4,591.8 1367.2,595.1 1374.1,600.8 1381,606.5 1387.9,611.5 1394.8,621.4 1401.6,630.7 1408.5,634.6 1415.4,633.9 1422.2,639.3 1429.1,631.9 1436,627.4 1442.9,626.5" fill="none" stroke="#ffffff" stroke-width="1.05" stroke-linejoin="round"/>
<clipPath id="kc"><rect x="0" y="714" width="1468" height="165"/></clipPath>
<g clip-path="url(#kc)">
<polyline points="6,769.5 12.9,769.8 19.8,771.7 26.6,774.2 33.5,783 40.4,794 47.2,806.5 54.1,813.4 61,818.2 67.9,824.8 74.8,831.7 81.6,838.8 88.5,842.4 95.4,844.6 102.2,845.2 109.1,844.3 116,840.8 122.9,835.3 129.8,827.9 136.6,819.1 143.5,812.2 150.4,806.9 157.2,805 164.1,805.2 171,805.6 177.9,808 184.8,809.2 191.6,806.9 198.5,801.7 205.4,797.5 212.2,796.7 219.1,797.5 226,801.9 232.9,807.5 239.8,811.7 246.6,815.4 253.5,820 260.4,825.1 267.2,830.2 274.1,832.7 281,836.2 287.9,837.7 294.8,837.5 301.6,837.2 308.5,837.8 315.4,836.9 322.2,834.4 329.1,825.7 336,815.9 342.9,809.4 349.8,807.6 356.6,812.2 363.5,820.1 370.4,826 377.2,828.4 384.1,832 391,835.8 397.9,835 404.8,832.4 411.6,832.1 418.5,831.3 425.4,829.7 432.2,825.9 439.1,823.4 446,815.5 452.9,806.6 459.8,799 466.6,791.6 473.5,786.5 480.4,782.4 487.2,778.6 494.1,777.9 501,780.5 507.9,779.8 514.8,778.1 521.6,776.4 528.5,781.9 535.4,792.4 542.2,804.5 549.1,815.3 556,824.9 562.9,833.9 569.8,838.1 576.6,841.1 583.5,841.8 590.4,838.7 597.2,833.1 604.1,827.2 611,826.3 617.9,828.9 624.8,828.6 631.6,831.2 638.5,834.7 645.4,838.7 652.2,842.1 659.1,844.5 666,847.9 672.9,849.2 679.8,850.8 686.6,851.7 693.5,853.2 700.4,855.5 707.2,854.2 714.1,854.5 721,852.6 727.9,851.3 734.8,851.8 741.6,850 748.5,842.1 755.4,831.3 762.2,824 769.1,814.3 776,805.8 782.9,799.1 789.8,795.7 796.6,794.7 803.5,800.2 810.4,799.9 817.2,795.9 824.1,790.5 831,785.7 837.9,783.4 844.8,783 851.6,783.9 858.5,784.7 865.4,788.8 872.2,796.7 879.1,807.3 886,818 892.9,823.6 899.8,828 906.6,828.4 913.5,826.8 920.4,825.3 927.2,820.6 934.1,820.5 941,822.8 947.9,828.6 954.8,832 961.6,831.3 968.5,830.5 975.4,828.1 982.2,825.1 989.1,816.9 996,808.3 1002.9,801.3 1009.8,798.1 1016.6,801.1 1023.5,806.4 1030.4,808.6 1037.2,814.9 1044.1,822.8 1051,829.3 1057.9,836.4 1064.8,841.8 1071.6,846.5 1078.5,847 1085.4,846.2 1092.2,847.8 1099.1,843.3 1106,834.1 1112.9,824.1 1119.8,812.9 1126.6,803.8 1133.5,796.2 1140.4,791.3 1147.2,786.1 1154.1,787.9 1161,795.1 1167.9,804.4 1174.8,814.7 1181.6,822.2 1188.5,829.4 1195.4,836.5 1202.2,841.4 1209.1,846.6 1216,847 1222.9,841.2 1229.8,833.9 1236.6,826.2 1243.5,819.3 1250.4,813.7 1257.2,812.2 1264.1,811.4 1271,809.3 1277.9,808.4 1284.8,802.9 1291.6,797.8 1298.5,793.7 1305.4,790.7 1312.2,788.8 1319.1,791.1 1326,794.6 1332.9,795.6 1339.8,798.1 1346.6,796.9 1353.5,794.5 1360.4,789.9 1367.2,790.5 1374.1,793.1 1381,797.2 1387.9,806.5 1394.8,816.8 1401.6,826.4 1408.5,832.2 1415.4,838.1 1422.2,841.5 1429.1,835.5 1436,824.8 1442.9,815.2" fill="none" stroke="#ffff00" stroke-width="1.05" stroke-linejoin="round"/>
<polyline points="6,767.2 12.9,770.5 19.8,772.7 26.6,781.5 33.5,802.1 40.4,816.3 47.2,829.5 54.1,828.5 61,825 67.9,838 74.8,847.1 81.6,850.7 88.5,851.5 95.4,849.8 102.2,846.3 109.1,842.4 116,833.9 122.9,824.2 129.8,813 136.6,801.6 143.5,798.5 150.4,796.2 157.2,801.3 164.1,805.5 171,806.4 177.9,813 184.8,811.4 191.6,802.4 198.5,791.2 205.4,789.1 212.2,795.2 219.1,799 226,810.6 232.9,818.8 239.8,820.1 246.6,822.7 253.5,829.3 260.4,835.2 267.2,840.4 274.1,837.6 281,843.3 287.9,840.6 294.8,837.3 301.6,836.6 308.5,838.9 315.4,835.3 322.2,829.3 329.1,808.4 336,796.3 342.9,796.6 349.8,804 356.6,821.3 363.5,836 370.4,837.9 377.2,833 384.1,839.1 391,843.6 397.9,833.3 404.8,827.2 411.6,831.6 418.5,829.6 425.4,826.7 432.2,818.3 439.1,818.5 446,799.6 452.9,788.8 459.8,783.8 466.6,776.7 473.5,776.3 480.4,774.4 487.2,771 494.1,776.4 501,785.7 507.9,778.3 514.8,774.8 521.6,773.1 528.5,792.9 535.4,813.2 542.2,828.7 549.1,836.9 556,844 562.9,852.1 569.8,846.5 576.6,847.1 583.5,843.2 590.4,832.3 597.2,822 604.1,815.4 611,824.4 617.9,834.1 624.8,828.2 631.6,836.3 638.5,841.6 645.4,846.7 652.2,848.9 659.1,849.5 666,854.6 672.9,851.8 679.8,854 686.6,853.5 693.5,856.2 700.4,860.1 707.2,851.6 714.1,855.1 721,848.9 727.9,848.6 734.8,852.9 741.6,846.2 748.5,826.3 755.4,809.7 762.2,809.3 769.1,795 776,788.9 782.9,785.7 789.8,788.8 796.6,792.8 803.5,811.3 810.4,799.3 817.2,787.9 824.1,779.6 831,776.3 837.9,778.8 844.8,782.1 851.6,785.9 858.5,786.1 865.4,797.2 872.2,812.6 879.1,828.4 886,839.5 892.9,834.8 899.8,836.7 906.6,829.1 913.5,823.7 920.4,822.2 927.2,811.4 934.1,820.1 941,827.4 947.9,840.2 954.8,838.8 961.6,829.9 968.5,828.8 975.4,823.2 982.2,819.3 989.1,800.5 996,791 1002.9,787.4 1009.8,791.7 1016.6,807.2 1023.5,817 1030.4,812.9 1037.2,827.4 1044.1,838.8 1051,842.2 1057.9,850.5 1064.8,852.5 1071.6,855.9 1078.5,848.1 1085.4,844.6 1092.2,851 1099.1,834.3 1106,815.6 1112.9,804.1 1119.8,790.5 1126.6,785.6 1133.5,780.9 1140.4,781.5 1147.2,775.7 1154.1,791.6 1161,809.3 1167.9,823.1 1174.8,835.3 1181.6,837.3 1188.5,843.7 1195.4,850.7 1202.2,851.3 1209.1,856.9 1216,847.9 1222.9,829.5 1229.8,819.2 1236.6,810.9 1243.5,805.3 1250.4,802.6 1257.2,809.3 1264.1,809.7 1271,805.2 1277.9,806.4 1284.8,795.2 1291.6,786.5 1298.5,782.1 1305.4,783.1 1312.2,783.7 1319.1,795.5 1326,799.5 1332.9,795.4 1339.8,803.2 1346.6,794.3 1353.5,789.7 1360.4,780.6 1367.2,791.8 1374.1,798.2 1381,805.5 1387.9,825 1394.8,837.4 1401.6,845.5 1408.5,843.7 1415.4,849.9 1422.2,848.3 1429.1,823.5 1436,803.5 1442.9,796" fill="none" stroke="#ffffff" stroke-width="1.05" stroke-linejoin="round"/>
<polyline points="6,762.5 12.9,772 19.8,774.8 26.6,796.2 33.5,840.2 40.4,860.9 47.2,875.6 54.1,858.7 61,838.5 67.9,864.5 74.8,878 81.6,874.4 88.5,869.7 95.4,860.1 102.2,848.5 109.1,838.7 116,820.1 122.9,802 129.8,783.3 136.6,766.6 143.5,771.1 150.4,774.7 157.2,793.8 164.1,806.1 171,808 177.9,822.8 184.8,815.9 191.6,793.4 198.5,770.1 205.4,772.4 212.2,792.2 219.1,802.1 226,828.1 232.9,841.3 239.8,836.8 246.6,837.5 253.5,847.8 260.4,855.6 267.2,860.8 274.1,847.6 281,857.5 287.9,846.4 294.8,836.7 301.6,835.3 308.5,841.2 315.4,831.9 322.2,819 329.1,773.7 336,757 342.9,770.8 349.8,796.7 356.6,839.6 363.5,867.9 370.4,861.5 377.2,842.3 384.1,853.4 391,859 397.9,829.9 404.8,816.7 411.6,830.5 418.5,826.3 425.4,820.6 432.2,803.1 439.1,808.5 446,767.9 452.9,753.2 459.8,753.3 466.6,747 473.5,755.9 480.4,758.2 487.2,755.7 494.1,773.4 501,796.2 507.9,775.5 514.8,768.2 521.6,766.3 528.5,814.8 535.4,855 542.2,877.1 549.1,880.2 556,882.4 562.9,888.5 569.8,863.3 576.6,859.1 583.5,845.9 590.4,819.6 597.2,799.7 604.1,791.8 611,820.8 617.9,844.5 624.8,827.2 631.6,846.4 638.5,855.6 645.4,862.7 652.2,862.4 659.1,859.3 666,868.1 672.9,856.9 679.8,860.4 686.6,857.2 693.5,862.1 700.4,869.2 707.2,846.4 714.1,856.2 721,841.6 727.9,843.3 734.8,855.1 741.6,838.7 748.5,794.7 755.4,766.6 762.2,780 769.1,756.4 776,754.9 782.9,758.9 789.8,775 796.6,788.9 803.5,833.4 810.4,798 817.2,771.8 824.1,757.8 831,757.3 837.9,769.5 844.8,780.3 851.6,789.7 858.5,789 865.4,813.8 872.2,844.3 879.1,870.6 886,882.5 892.9,857.2 899.8,854.2 906.6,830.6 913.5,817.4 920.4,816 927.2,793 934.1,819.5 941,836.7 947.9,863.4 954.8,852.3 961.6,827.2 968.5,825.5 975.4,813.5 982.2,807.6 989.1,767.6 996,756.6 1002.9,759.5 1009.8,779 1016.6,819.2 1023.5,838.1 1030.4,821.7 1037.2,852.5 1044.1,870.6 1051,868 1057.9,878.8 1064.8,874.1 1071.6,874.8 1078.5,850.2 1085.4,841.3 1092.2,857.4 1099.1,816.4 1106,778.6 1112.9,764.2 1119.8,745.8 1126.6,749.2 1133.5,750.4 1140.4,762 1147.2,755 1154.1,798.8 1161,837.9 1167.9,860.4 1174.8,876.4 1181.6,867.5 1188.5,872.4 1195.4,879 1202.2,871.1 1209.1,877.4 1216,849.7 1222.9,806.1 1229.8,789.9 1236.6,780.3 1243.5,777.5 1250.4,780.3 1257.2,803.4 1264.1,806.4 1271,797 1277.9,802.5 1284.8,773.4 1291.6,760.9 1298.5,759 1305.4,769.3 1312.2,780.8 1319.1,804.4 1326,809.4 1332.9,798.4 1339.8,813.2 1346.6,789.3 1353.5,780.2 1360.4,762.2 1367.2,794.5 1374.1,808.5 1381,822.2 1387.9,862.1 1394.8,878.5 1401.6,883.9 1408.5,866.9 1415.4,873.6 1422.2,861.9 1429.1,799.6 1436,760.8 1442.9,757.6" fill="none" stroke="#ff00ff" stroke-width="1.05" stroke-linejoin="round"/>
</g>
<text transform="matrix(1.0297 0 0 1.1037 2.76 31.69)" fill="#c0c0c0" font-size="17.5" stroke="#000" stroke-width="0.22">上证指数(日线.前复权)</text>
<text transform="matrix(0.9790 0 0 1.1459 210.56 30.80)" fill="#ffffff" font-size="17.5" stroke="#000" stroke-width="0.22">MA5:</text>
<text transform="matrix(1.0500 0 0 1.1459 254.74 30.80)" fill="#ffffff" font-size="17.5" stroke="#000" stroke-width="0.22">2625.24</text>
<text transform="matrix(0.9910 0 0 1.1459 329.05 30.80)" fill="#ffff00" font-size="17.5" stroke="#000" stroke-width="0.22">MA10:</text>
<text transform="matrix(1.0627 0 0 1.1459 382.83 30.80)" fill="#ffff00" font-size="17.5" stroke="#000" stroke-width="0.22">2610.33</text>
<text transform="matrix(0.9889 0 0 1.1459 458.05 30.80)" fill="#ff00ff" font-size="17.5" stroke="#000" stroke-width="0.22">MA20:</text>
<text transform="matrix(1.0692 0 0 1.1459 512.22 30.80)" fill="#ff00ff" font-size="17.5" stroke="#000" stroke-width="0.22">2630.18</text>
<text transform="matrix(1.0024 0 0 1.1459 587.13 30.80)" fill="#00ff00" font-size="17.5" stroke="#000" stroke-width="0.22">MA250:</text>
<text transform="matrix(1.0629 0 0 1.1459 652.02 30.80)" fill="#00ff00" font-size="17.5" stroke="#000" stroke-width="0.22">3003.35</text>
<text transform="matrix(0.9989 0 0 1.1459 1.90 557.50)" fill="#ffffff" font-size="17.5" stroke="#000" stroke-width="0.22">VOLUME:</text>
<text transform="matrix(1.0508 0 0 1.1459 85.85 557.50)" fill="#ffffff" font-size="17.5" stroke="#000" stroke-width="0.22">154502048.00</text>
<text transform="matrix(0.9631 0 0 1.1459 212.38 557.50)" fill="#ffffff" font-size="17.5" stroke="#000" stroke-width="0.22">MA5:</text>
<text transform="matrix(1.0390 0 0 1.1459 257.86 557.50)" fill="#ffffff" font-size="17.5" stroke="#000" stroke-width="0.22">165283872.00</text>
<text transform="matrix(0.9826 0 0 1.1459 383.06 557.50)" fill="#ffff00" font-size="17.5" stroke="#000" stroke-width="0.22">MA10:</text>
<text transform="matrix(1.0606 0 0 1.1459 438.34 557.50)" fill="#ffff00" font-size="17.5" stroke="#000" stroke-width="0.22">157113936.00</text>
<text transform="matrix(1.0324 0 0 1.1459 1.99 733.00)" fill="#c0c0c0" font-size="17.5" stroke="#000" stroke-width="0.22">KDJ(9,3,3)</text>
<text transform="matrix(1.0452 0 0 1.1459 96.47 733.00)" fill="#ffffff" font-size="17.5" stroke="#000" stroke-width="0.22">K:</text>
<text transform="matrix(1.0387 0 0 1.1459 118.15 733.00)" fill="#ffffff" font-size="17.5" stroke="#000" stroke-width="0.22">69.83</text>
<text transform="matrix(1.0995 0 0 1.1459 171.30 733.00)" fill="#ffff00" font-size="17.5" stroke="#000" stroke-width="0.22">D:</text>
<text transform="matrix(1.0203 0 0 1.1459 195.14 733.00)" fill="#ffff00" font-size="17.5" stroke="#000" stroke-width="0.22">51.08</text>
<text transform="matrix(1.0716 0 0 1.1459 248.01 733.00)" fill="#ff00ff" font-size="17.5" stroke="#000" stroke-width="0.22">J:</text>
<text transform="matrix(1.0347 0 0 1.1459 266.57 733.00)" fill="#ff00ff" font-size="17.5" stroke="#000" stroke-width="0.22">107.34</text>
<clipPath id="cp"><rect x="1400" y="440" width="67.2" height="60"/></clipPath>
<text transform="matrix(0.9723 0 0 1.0565 1472.03 708.60)" fill="#c83232" font-size="17.5" stroke="#000" stroke-width="0.22">X</text>
<path d="M2 449.5 L14.2 466.5 V510.5 L2 528.5 Z" fill="#404040" stroke="#707070" stroke-width="1.4"/>
<path d="M3.6 481 L11 488.3 L3.6 495.5 Z" fill="#e8a000"/>
</svg>
<div id="bar">
<b style="left:3.5px;width:24px;height:1.6px;background:#fff;border:0"></b>
<span style="left:41px">分时图</span><i style="left:27.5px"></i>
<span style="left:110px">K线图</span><i style="left:92px"></i>
<span style="left:171px">成交量</span><i style="left:156.6px"></i>
<span style="left:237px">KDJ</span><i style="left:221.2px"></i>
<span style="left:294px">指标MACD参数</span><i style="left:286.4px"></i>
<span style="left:382px">筹码分布</span><i style="left:371px"></i>
<span style="left:449px">资讯</span><i style="left:436.6px"></i>
<span style="left:517px">更多</span><i style="left:501px"></i>
<b style="left:581px;width:56.5px"></b><span style="left:590px;color:#e02020">前复权</span>
<b style="left:647px;width:58px"></b><span style="left:660px;color:#e02020">画线</span>
<span style="left:992px">自动画线 趋势线 通道线</span>
<span style="left:1132px">设置</span><span style="left:1156px">日线周期</span>
</div>
<div id="left"></div>
</body>
</html>
